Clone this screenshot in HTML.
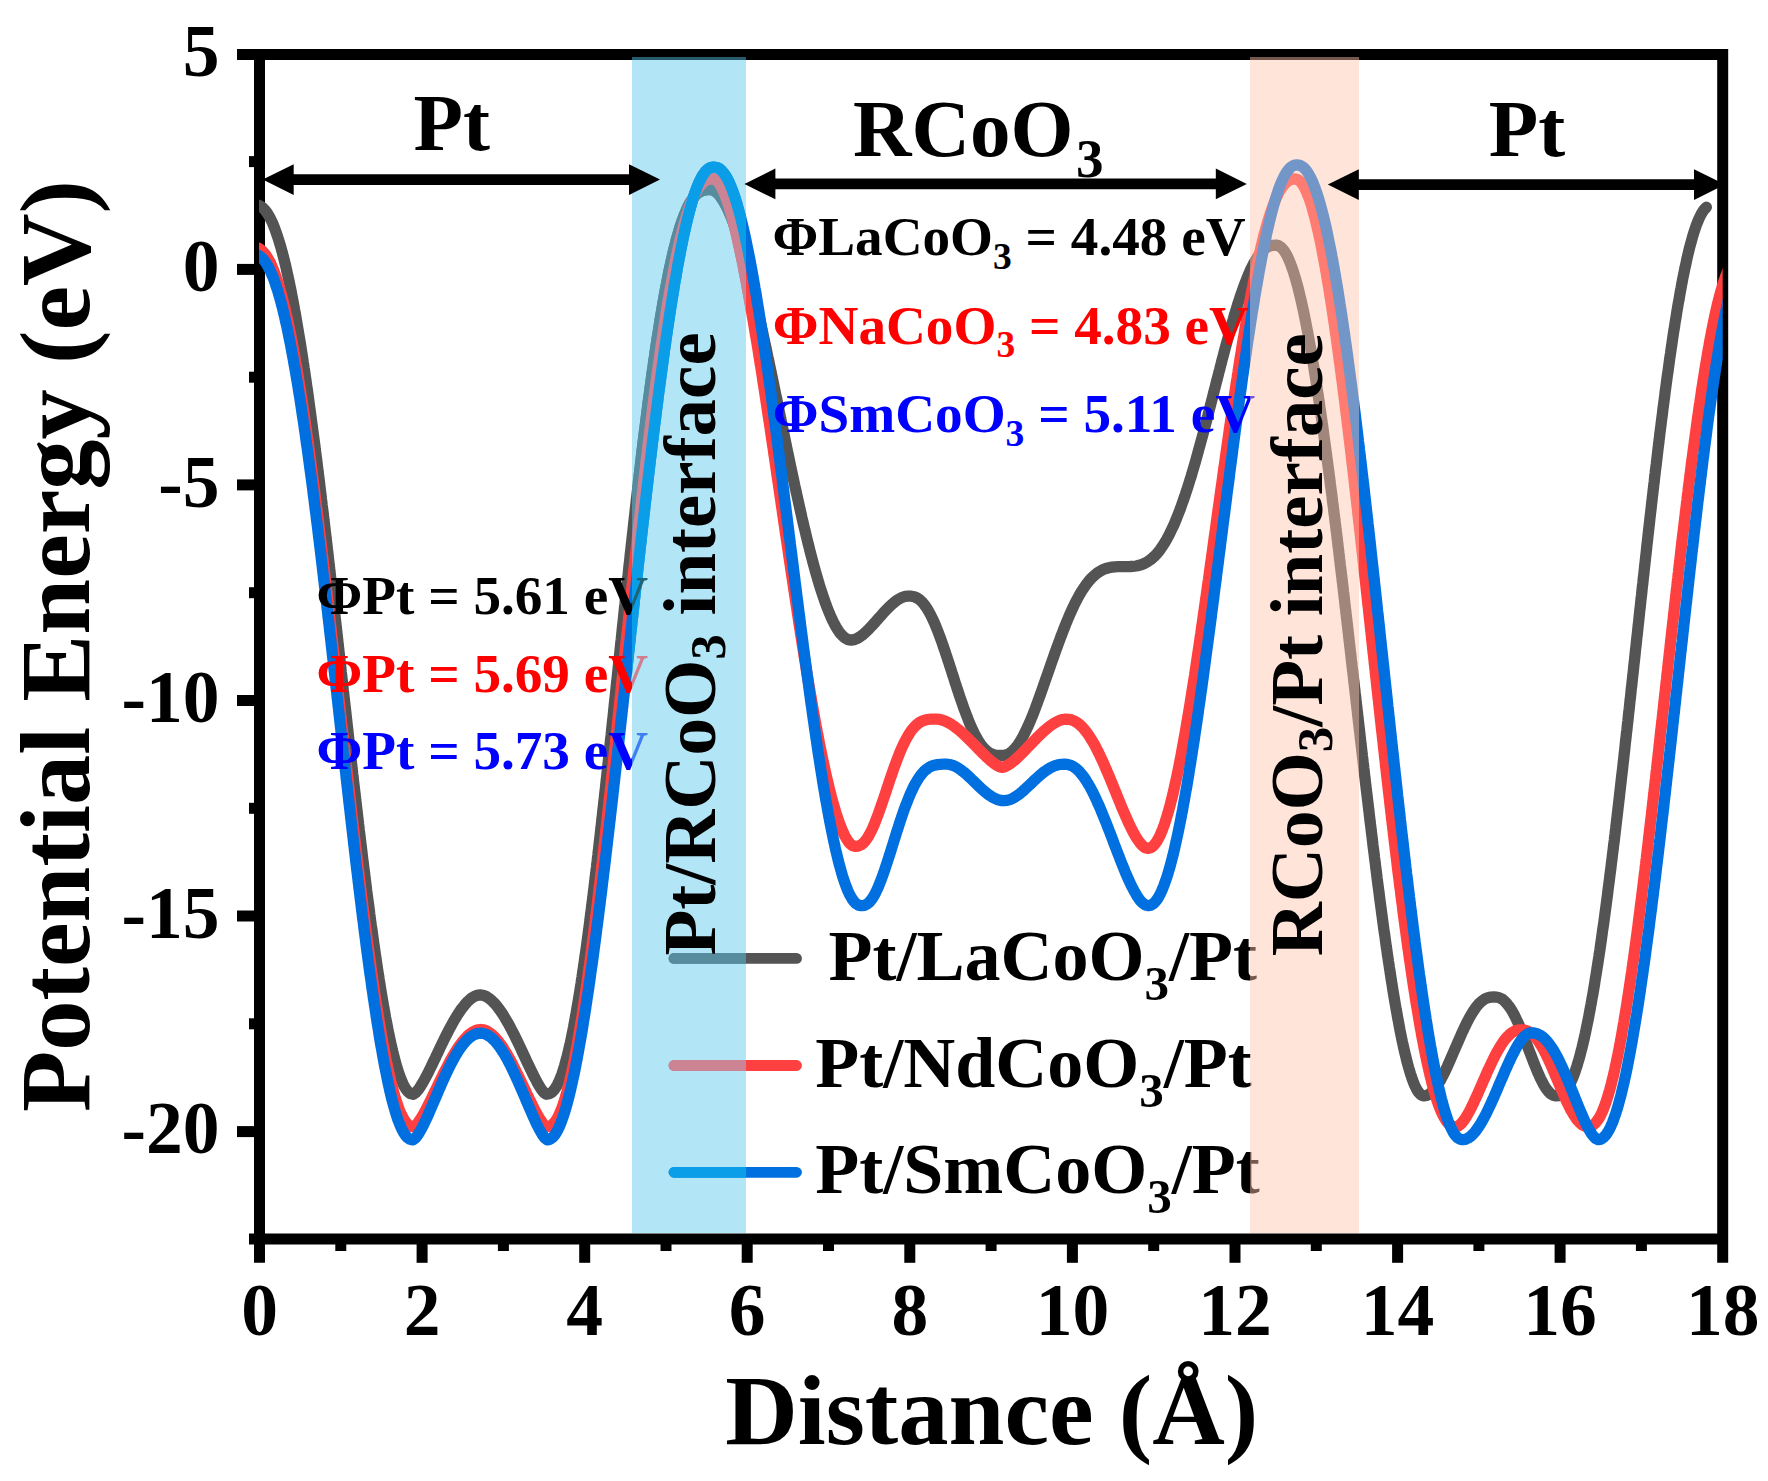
<!DOCTYPE html>
<html lang="en"><head><meta charset="utf-8"><title>Potential energy profile</title>
<style>html,body{margin:0;padding:0;background:#fff}svg{display:block}</style></head>
<body>
<svg width="1768" height="1481" viewBox="0 0 1768 1481" font-family="'Liberation Serif', serif" font-weight="bold">
<rect width="1768" height="1481" fill="#fff"/>
<g fill="none" stroke="#000" stroke-width="11.0" stroke-linecap="butt">
<path d="M237 54.4 H1722.7"/>
<path d="M249 1238.9 H1722.7"/>
<path d="M259.5 48.9 V1262.8"/>
<path d="M1722.7 48.9 V1262.8"/>
<path d="M237 269.4 H259.5"/>
<path d="M237 484.9 H259.5"/>
<path d="M237 700.5 H259.5"/>
<path d="M237 916.0 H259.5"/>
<path d="M237 1131.6 H259.5"/>
<path d="M249 161.6 H259.5"/>
<path d="M249 377.2 H259.5"/>
<path d="M249 592.7 H259.5"/>
<path d="M249 808.3 H259.5"/>
<path d="M249 1023.8 H259.5"/>
<path d="M422.1 1238.9 V1262.8"/>
<path d="M584.7 1238.9 V1262.8"/>
<path d="M747.2 1238.9 V1262.8"/>
<path d="M909.8 1238.9 V1262.8"/>
<path d="M1072.4 1238.9 V1262.8"/>
<path d="M1235.0 1238.9 V1262.8"/>
<path d="M1397.6 1238.9 V1262.8"/>
<path d="M1560.1 1238.9 V1262.8"/>
<path d="M340.8 1238.9 V1251"/>
<path d="M503.4 1238.9 V1251"/>
<path d="M666.0 1238.9 V1251"/>
<path d="M828.5 1238.9 V1251"/>
<path d="M991.1 1238.9 V1251"/>
<path d="M1153.7 1238.9 V1251"/>
<path d="M1316.3 1238.9 V1251"/>
<path d="M1478.9 1238.9 V1251"/>
<path d="M1641.4 1238.9 V1251"/>
</g>
<text x="219.5" y="75.6" font-size="73.5" fill="#000" text-anchor="end">5</text>
<text x="219.5" y="291.2" font-size="73.5" fill="#000" text-anchor="end">0</text>
<text x="219.5" y="506.8" font-size="73.5" fill="#000" text-anchor="end">-5</text>
<text x="219.5" y="722.3" font-size="73.5" fill="#000" text-anchor="end">-10</text>
<text x="219.5" y="937.8" font-size="73.5" fill="#000" text-anchor="end">-15</text>
<text x="219.5" y="1153.4" font-size="73.5" fill="#000" text-anchor="end">-20</text>
<text x="259.5" y="1334.8" font-size="73.5" fill="#000" text-anchor="middle">0</text>
<text x="422.1" y="1334.8" font-size="73.5" fill="#000" text-anchor="middle">2</text>
<text x="584.7" y="1334.8" font-size="73.5" fill="#000" text-anchor="middle">4</text>
<text x="747.2" y="1334.8" font-size="73.5" fill="#000" text-anchor="middle">6</text>
<text x="909.8" y="1334.8" font-size="73.5" fill="#000" text-anchor="middle">8</text>
<text x="1072.4" y="1334.8" font-size="73.5" fill="#000" text-anchor="middle">10</text>
<text x="1235.0" y="1334.8" font-size="73.5" fill="#000" text-anchor="middle">12</text>
<text x="1397.6" y="1334.8" font-size="73.5" fill="#000" text-anchor="middle">14</text>
<text x="1560.1" y="1334.8" font-size="73.5" fill="#000" text-anchor="middle">16</text>
<text x="1722.7" y="1334.8" font-size="73.5" fill="#000" text-anchor="middle">18</text>
<text x="991.8" y="1444.0" font-size="100.5" fill="#000" text-anchor="middle">Distance (Å)</text>
<text transform="translate(88.5 646) rotate(-90)" font-size="100.5" text-anchor="middle">Potential Energy (eV)</text>
<defs>
<clipPath id="fr"><rect x="259.0" y="40" width="1463.7" height="1210"/></clipPath>
<clipPath id="bb"><rect x="632.0" y="57.0" width="114.0" height="1176.0"/></clipPath>
<linearGradient id="gk" gradientUnits="userSpaceOnUse" x1="0" y1="0" x2="1768" y2="0"><stop offset="0.00000" stop-color="#000000"/><stop offset="0.35747" stop-color="#000000"/><stop offset="0.35747" stop-color="#1e6478"/><stop offset="0.42195" stop-color="#1e6478"/><stop offset="0.42195" stop-color="#000000"/><stop offset="0.70701" stop-color="#000000"/><stop offset="0.70701" stop-color="#73594e"/><stop offset="0.76867" stop-color="#73594e"/><stop offset="0.76867" stop-color="#000000"/><stop offset="1.00000" stop-color="#000000"/></linearGradient>
<linearGradient id="gr" gradientUnits="userSpaceOnUse" x1="0" y1="0" x2="1768" y2="0"><stop offset="0.00000" stop-color="#ff0000"/><stop offset="0.35747" stop-color="#ff0000"/><stop offset="0.35747" stop-color="#cf7f8f"/><stop offset="0.42195" stop-color="#cf7f8f"/><stop offset="0.42195" stop-color="#ff0000"/><stop offset="0.70701" stop-color="#ff0000"/><stop offset="0.70701" stop-color="#fe5a4e"/><stop offset="0.76867" stop-color="#fe5a4e"/><stop offset="0.76867" stop-color="#ff0000"/><stop offset="1.00000" stop-color="#ff0000"/></linearGradient>
<linearGradient id="gb" gradientUnits="userSpaceOnUse" x1="0" y1="0" x2="1768" y2="0"><stop offset="0.00000" stop-color="#0000ff"/><stop offset="0.35747" stop-color="#0000ff"/><stop offset="0.35747" stop-color="#3f7df3"/><stop offset="0.42195" stop-color="#3f7df3"/><stop offset="0.42195" stop-color="#0000ff"/><stop offset="0.70701" stop-color="#0000ff"/><stop offset="0.70701" stop-color="#7359d9"/><stop offset="0.76867" stop-color="#7359d9"/><stop offset="0.76867" stop-color="#0000ff"/><stop offset="1.00000" stop-color="#0000ff"/></linearGradient>
<path id="cg" d="M254.0 204.5L257.0 204.8L259.8 205.8L262.3 207.4L264.5 209.5L266.3 211.8L268.0 214.3L269.5 216.9L270.9 219.6L272.2 222.3L273.4 225.1L274.5 227.9L275.5 230.7L276.5 233.5L277.5 236.3L278.4 239.2L279.3 242.1L280.2 244.9L281.0 247.8L281.8 250.7L282.6 253.6L283.3 256.5L284.1 259.4L284.8 262.3L285.5 265.2L286.2 268.2L286.8 271.1L287.5 274.0L288.1 277.0L288.8 279.9L289.4 282.8L290.0 285.8L290.6 288.7L291.2 291.6L291.7 294.6L292.3 297.5L292.9 300.5L293.4 303.4L294.0 306.4L294.5 309.3L295.1 312.3L295.6 315.2L296.1 318.2L296.6 321.2L297.1 324.1L297.6 327.1L298.1 330.0L298.6 333.0L299.1 335.9L299.6 338.9L300.1 341.9L300.6 344.8L301.0 347.8L301.5 350.8L302.0 353.7L302.4 356.7L302.9 359.7L303.3 362.6L303.8 365.6L304.2 368.6L304.7 371.5L305.1 374.5L305.5 377.5L306.0 380.4L306.4 383.4L306.8 386.4L307.2 389.3L307.7 392.3L308.1 395.3L308.5 398.3L308.9 401.2L309.3 404.2L309.7 407.2L310.1 410.1L310.5 413.1L310.9 416.1L311.3 419.1L311.7 422.0L312.1 425.0L312.5 428.0L312.9 431.0L313.3 433.9L313.7 436.9L314.1 439.9L314.5 442.9L314.9 445.8L315.2 448.8L315.6 451.8L316.0 454.8L316.4 457.8L316.8 460.7L317.1 463.7L317.5 466.7L317.9 469.7L318.2 472.6L318.6 475.6L319.0 478.6L319.4 481.6L319.7 484.6L320.1 487.5L320.4 490.5L320.8 493.5L321.2 496.5L321.5 499.4L321.9 502.4L322.2 505.4L322.6 508.4L323.0 511.4L323.3 514.3L323.7 517.3L324.0 520.3L324.4 523.3L324.7 526.3L325.1 529.2L325.4 532.2L325.8 535.2L326.1 538.2L326.5 541.2L326.8 544.1L327.2 547.1L327.5 550.1L327.9 553.1L328.2 556.1L328.5 559.0L328.9 562.0L329.2 565.0L329.6 568.0L329.9 571.0L330.3 574.0L330.6 576.9L330.9 579.9L331.3 582.9L331.6 585.9L332.0 588.9L332.3 591.8L332.6 594.8L333.0 597.8L333.3 600.8L333.6 603.8L334.0 606.8L334.3 609.7L334.7 612.7L335.0 615.7L335.3 618.7L335.7 621.7L336.0 624.6L336.3 627.6L336.7 630.6L337.0 633.6L337.3 636.6L337.7 639.6L338.0 642.5L338.3 645.5L338.7 648.5L339.0 651.5L339.3 654.5L339.7 657.4L340.0 660.4L340.3 663.4L340.7 666.4L341.0 669.4L341.3 672.4L341.7 675.3L342.0 678.3L342.3 681.3L342.7 684.3L343.0 687.3L343.3 690.2L343.7 693.2L344.0 696.2L344.3 699.2L344.7 702.2L345.0 705.2L345.3 708.1L345.7 711.1L346.0 714.1L346.3 717.1L346.7 720.1L347.0 723.1L347.3 726.0L347.7 729.0L348.0 732.0L348.3 735.0L348.7 738.0L349.0 740.9L349.3 743.9L349.7 746.9L350.0 749.9L350.3 752.9L350.7 755.9L351.0 758.8L351.4 761.8L351.7 764.8L352.0 767.8L352.4 770.8L352.7 773.7L353.1 776.7L353.4 779.7L353.7 782.7L354.1 785.7L354.4 788.6L354.8 791.6L355.1 794.6L355.5 797.6L355.8 800.6L356.2 803.6L356.5 806.5L356.9 809.5L357.2 812.5L357.6 815.5L357.9 818.5L358.3 821.4L358.6 824.4L359.0 827.4L359.3 830.4L359.7 833.4L360.0 836.3L360.4 839.3L360.7 842.3L361.1 845.3L361.5 848.2L361.8 851.2L362.2 854.2L362.5 857.2L362.9 860.2L363.3 863.1L363.6 866.1L364.0 869.1L364.4 872.1L364.8 875.1L365.1 878.0L365.5 881.0L365.9 884.0L366.3 887.0L366.6 889.9L367.0 892.9L367.4 895.9L367.8 898.9L368.2 901.8L368.6 904.8L369.0 907.8L369.4 910.8L369.7 913.7L370.1 916.7L370.5 919.7L370.9 922.7L371.3 925.6L371.8 928.6L372.2 931.6L372.6 934.6L373.0 937.5L373.4 940.5L373.8 943.5L374.2 946.4L374.7 949.4L375.1 952.4L375.5 955.4L376.0 958.3L376.4 961.3L376.8 964.3L377.3 967.2L377.7 970.2L378.2 973.2L378.7 976.1L379.1 979.1L379.6 982.1L380.1 985.0L380.5 988.0L381.0 990.9L381.5 993.9L382.0 996.9L382.5 999.8L383.0 1002.8L383.5 1005.7L384.0 1008.7L384.6 1011.6L385.1 1014.6L385.6 1017.5L386.2 1020.5L386.8 1023.4L387.3 1026.4L387.9 1029.3L388.5 1032.3L389.1 1035.2L389.7 1038.2L390.4 1041.1L391.0 1044.0L391.7 1046.9L392.3 1049.9L393.0 1052.8L393.8 1055.7L394.5 1058.6L395.3 1061.5L396.1 1064.4L396.9 1067.3L397.8 1070.1L398.7 1073.0L399.7 1075.8L400.8 1078.6L401.9 1081.4L403.1 1084.1L404.5 1086.8L406.1 1089.4L408.0 1091.7L410.3 1093.6L413.2 1094.3L415.7 1092.6L417.8 1090.3L419.6 1087.9L421.2 1085.3L422.8 1082.6L424.3 1080.0L425.8 1077.3L427.2 1074.5L428.6 1071.8L429.9 1069.1L431.3 1066.3L432.6 1063.5L433.9 1060.8L435.3 1058.0L436.6 1055.2L437.9 1052.5L439.2 1049.7L440.5 1046.9L441.8 1044.1L443.2 1041.4L444.5 1038.6L445.9 1035.9L447.3 1033.1L448.7 1030.4L450.1 1027.7L451.6 1025.0L453.1 1022.3L454.6 1019.6L456.2 1017.0L457.8 1014.4L459.5 1011.8L461.2 1009.3L463.1 1006.9L465.0 1004.5L467.0 1002.2L469.3 1000.1L471.6 998.1L474.2 996.5L477.1 995.4L480.1 994.9L483.1 995.3L486.0 996.4L488.6 998.0L491.0 999.9L493.2 1002.0L495.3 1004.2L497.3 1006.6L499.1 1009.0L500.9 1011.5L502.6 1014.0L504.2 1016.6L505.8 1019.3L507.3 1021.9L508.8 1024.6L510.3 1027.3L511.7 1030.0L513.1 1032.7L514.5 1035.4L515.8 1038.2L517.2 1040.9L518.5 1043.7L519.8 1046.4L521.1 1049.2L522.4 1052.0L523.7 1054.7L525.0 1057.5L526.3 1060.3L527.6 1063.1L528.9 1065.8L530.2 1068.6L531.6 1071.3L532.9 1074.1L534.3 1076.8L535.7 1079.5L537.1 1082.2L538.6 1084.9L540.2 1087.5L541.9 1090.1L543.8 1092.5L546.2 1094.3L549.2 1093.8L551.8 1092.4L553.9 1090.2L555.6 1087.8L557.2 1085.2L558.5 1082.5L559.7 1079.8L560.8 1077.0L561.9 1074.2L562.8 1071.3L563.7 1068.5L564.6 1065.6L565.4 1062.7L566.2 1059.8L567.0 1056.9L567.7 1054.0L568.4 1051.0L569.1 1048.1L569.8 1045.2L570.5 1042.2L571.1 1039.3L571.7 1036.4L572.3 1033.4L572.9 1030.5L573.5 1027.5L574.0 1024.6L574.6 1021.6L575.1 1018.7L575.7 1015.7L576.2 1012.7L576.7 1009.8L577.2 1006.8L577.7 1003.9L578.2 1000.9L578.7 997.9L579.2 995.0L579.7 992.0L580.2 989.0L580.6 986.1L581.1 983.1L581.5 980.1L582.0 977.1L582.4 974.2L582.9 971.2L583.3 968.2L583.8 965.2L584.2 962.3L584.6 959.3L585.0 956.3L585.5 953.3L585.9 950.4L586.3 947.4L586.7 944.4L587.1 941.4L587.5 938.5L587.9 935.5L588.3 932.5L588.7 929.5L589.1 926.5L589.5 923.6L589.9 920.6L590.2 917.6L590.6 914.6L591.0 911.6L591.4 908.6L591.7 905.7L592.1 902.7L592.5 899.7L592.9 896.7L593.2 893.7L593.6 890.7L594.0 887.8L594.3 884.8L594.7 881.8L595.0 878.8L595.4 875.8L595.8 872.8L596.1 869.9L596.5 866.9L596.8 863.9L597.2 860.9L597.5 857.9L597.9 854.9L598.2 851.9L598.6 849.0L598.9 846.0L599.2 843.0L599.6 840.0L599.9 837.0L600.3 834.0L600.6 831.0L600.9 828.0L601.3 825.1L601.6 822.1L601.9 819.1L602.3 816.1L602.6 813.1L602.9 810.1L603.3 807.1L603.6 804.1L603.9 801.2L604.3 798.2L604.6 795.2L604.9 792.2L605.3 789.2L605.6 786.2L605.9 783.2L606.2 780.2L606.6 777.3L606.9 774.3L607.2 771.3L607.5 768.3L607.8 765.3L608.2 762.3L608.5 759.3L608.8 756.3L609.1 753.3L609.5 750.4L609.8 747.4L610.1 744.4L610.4 741.4L610.7 738.4L611.1 735.4L611.4 732.4L611.7 729.4L612.0 726.4L612.3 723.5L612.6 720.5L613.0 717.5L613.3 714.5L613.6 711.5L613.9 708.5L614.2 705.5L614.5 702.5L614.9 699.5L615.2 696.5L615.5 693.6L615.8 690.6L616.1 687.6L616.4 684.6L616.7 681.6L617.1 678.6L617.4 675.6L617.7 672.6L618.0 669.6L618.3 666.7L618.6 663.7L619.0 660.7L619.3 657.7L619.6 654.7L619.9 651.7L620.2 648.7L620.5 645.7L620.8 642.7L621.2 639.7L621.5 636.8L621.8 633.8L622.1 630.8L622.4 627.8L622.7 624.8L623.1 621.8L623.4 618.8L623.7 615.8L624.0 612.8L624.3 609.9L624.6 606.9L625.0 603.9L625.3 600.9L625.6 597.9L625.9 594.9L626.2 591.9L626.6 588.9L626.9 585.9L627.2 583.0L627.5 580.0L627.9 577.0L628.2 574.0L628.5 571.0L628.8 568.0L629.1 565.0L629.5 562.0L629.8 559.0L630.1 556.1L630.4 553.1L630.8 550.1L631.1 547.1L631.4 544.1L631.8 541.1L632.1 538.1L632.4 535.1L632.8 532.2L633.1 529.2L633.4 526.2L633.7 523.2L634.1 520.2L634.4 517.2L634.8 514.2L635.1 511.2L635.4 508.3L635.8 505.3L636.1 502.3L636.4 499.3L636.8 496.3L637.1 493.3L637.5 490.3L637.8 487.3L638.2 484.4L638.5 481.4L638.9 478.4L639.2 475.4L639.6 472.4L639.9 469.4L640.3 466.4L640.6 463.5L641.0 460.5L641.3 457.5L641.7 454.5L642.0 451.5L642.4 448.5L642.8 445.6L643.1 442.6L643.5 439.6L643.9 436.6L644.2 433.6L644.6 430.6L645.0 427.7L645.4 424.7L645.7 421.7L646.1 418.7L646.5 415.7L646.9 412.7L647.3 409.8L647.6 406.8L648.0 403.8L648.4 400.8L648.8 397.8L649.2 394.9L649.6 391.9L650.0 388.9L650.4 385.9L650.8 382.9L651.2 380.0L651.6 377.0L652.0 374.0L652.4 371.0L652.9 368.1L653.3 365.1L653.7 362.1L654.1 359.1L654.6 356.1L655.0 353.2L655.4 350.2L655.9 347.2L656.3 344.3L656.8 341.3L657.2 338.3L657.7 335.3L658.2 332.4L658.6 329.4L659.1 326.4L659.6 323.5L660.0 320.5L660.5 317.5L661.0 314.6L661.5 311.6L662.0 308.6L662.5 305.7L663.0 302.7L663.6 299.7L664.1 296.8L664.6 293.8L665.2 290.9L665.7 287.9L666.3 285.0L666.9 282.0L667.4 279.1L668.0 276.1L668.6 273.2L669.2 270.2L669.8 267.3L670.5 264.3L671.1 261.4L671.8 258.5L672.4 255.5L673.1 252.6L673.8 249.7L674.5 246.8L675.3 243.9L676.0 241.0L676.8 238.1L677.6 235.2L678.5 232.3L679.3 229.4L680.2 226.5L681.2 223.7L682.1 220.8L683.2 218.0L684.2 215.2L685.4 212.4L686.6 209.6L687.8 206.9L689.2 204.3L690.7 201.6L692.4 199.1L694.2 196.7L696.2 194.5L698.5 192.6L701.1 191.1L703.9 190.1L706.9 189.6L709.9 189.5L712.8 190.0L715.5 191.5L717.8 193.4L719.8 195.7L721.6 198.1L723.2 200.6L724.7 203.2L726.1 205.8L727.5 208.5L728.7 211.3L729.9 214.0L731.1 216.8L732.2 219.6L733.3 222.4L734.3 225.2L735.3 228.0L736.3 230.9L737.3 233.7L738.2 236.6L739.1 239.5L740.0 242.3L740.9 245.2L741.7 248.1L742.6 251.0L743.4 253.9L744.2 256.8L745.0 259.7L745.8 262.6L746.6 265.5L747.4 268.4L748.1 271.3L748.9 274.2L749.6 277.1L750.4 280.0L751.1 282.9L751.8 285.9L752.5 288.8L753.3 291.7L754.0 294.6L754.7 297.5L755.3 300.5L756.0 303.4L756.7 306.3L757.4 309.3L758.1 312.2L758.7 315.1L759.4 318.0L760.1 321.0L760.7 323.9L761.4 326.8L762.0 329.8L762.7 332.7L763.3 335.7L763.9 338.6L764.6 341.5L765.2 344.5L765.9 347.4L766.5 350.4L767.1 353.3L767.7 356.2L768.4 359.2L769.0 362.1L769.6 365.1L770.2 368.0L770.8 370.9L771.5 373.9L772.1 376.8L772.7 379.8L773.3 382.7L773.9 385.7L774.5 388.6L775.1 391.5L775.7 394.5L776.4 397.4L777.0 400.4L777.6 403.3L778.2 406.3L778.8 409.2L779.4 412.2L780.0 415.1L780.6 418.0L781.2 421.0L781.8 423.9L782.4 426.9L783.0 429.8L783.7 432.8L784.3 435.7L784.9 438.7L785.5 441.6L786.1 444.5L786.7 447.5L787.3 450.4L787.9 453.4L788.6 456.3L789.2 459.3L789.8 462.2L790.4 465.1L791.0 468.1L791.7 471.0L792.3 474.0L792.9 476.9L793.6 479.9L794.2 482.8L794.8 485.7L795.5 488.7L796.1 491.6L796.8 494.5L797.4 497.5L798.1 500.4L798.7 503.3L799.4 506.3L800.0 509.2L800.7 512.1L801.4 515.1L802.0 518.0L802.7 520.9L803.4 523.9L804.1 526.8L804.8 529.7L805.5 532.6L806.2 535.6L806.9 538.5L807.6 541.4L808.3 544.3L809.1 547.2L809.8 550.2L810.5 553.1L811.3 556.0L812.1 558.9L812.8 561.8L813.6 564.7L814.4 567.6L815.2 570.5L816.0 573.4L816.9 576.3L817.7 579.2L818.6 582.1L819.4 584.9L820.3 587.8L821.2 590.7L822.2 593.5L823.1 596.4L824.1 599.2L825.1 602.1L826.1 604.9L827.2 607.7L828.3 610.5L829.4 613.3L830.6 616.0L831.8 618.8L833.1 621.5L834.5 624.2L835.9 626.8L837.5 629.4L839.2 631.9L841.0 634.2L843.1 636.4L845.5 638.3L848.1 639.6L851.1 640.1L854.1 639.6L857.0 638.5L859.7 637.0L862.2 635.2L864.5 633.2L866.8 631.1L869.0 628.9L871.1 626.7L873.2 624.4L875.3 622.1L877.3 619.8L879.3 617.5L881.4 615.2L883.4 612.9L885.5 610.7L887.7 608.4L889.8 606.3L892.1 604.2L894.4 602.2L896.9 600.3L899.5 598.7L902.3 597.3L905.2 596.4L908.3 596.1L911.3 596.2L914.3 596.8L917.1 598.0L919.6 599.7L921.9 601.8L923.9 604.1L925.7 606.5L927.4 609.1L928.9 611.7L930.4 614.4L931.7 617.1L933.0 619.8L934.3 622.6L935.5 625.4L936.6 628.2L937.8 631.1L938.8 633.9L939.9 636.8L941.0 639.6L942.0 642.5L943.0 645.4L944.0 648.3L945.0 651.1L945.9 654.0L946.9 656.9L947.8 659.8L948.8 662.7L949.7 665.6L950.7 668.5L951.6 671.4L952.5 674.3L953.5 677.2L954.4 680.1L955.3 683.0L956.3 685.9L957.2 688.8L958.2 691.7L959.1 694.6L960.1 697.5L961.1 700.4L962.1 703.2L963.1 706.1L964.1 709.0L965.2 711.8L966.3 714.7L967.4 717.5L968.5 720.4L969.6 723.2L970.8 726.0L972.1 728.8L973.4 731.5L974.7 734.2L976.2 736.9L977.7 739.6L979.3 742.2L981.0 744.7L982.9 747.1L984.9 749.3L987.2 751.3L989.7 753.1L992.5 754.3L995.4 755.1L998.5 755.4L1001.5 755.5L1004.5 755.3L1007.4 754.4L1010.1 753.0L1012.5 751.1L1014.6 749.0L1016.5 746.7L1018.3 744.2L1020.0 741.7L1021.5 739.1L1023.0 736.4L1024.4 733.7L1025.7 731.0L1027.0 728.3L1028.3 725.5L1029.5 722.7L1030.7 720.0L1031.8 717.2L1033.0 714.4L1034.1 711.5L1035.2 708.7L1036.2 705.9L1037.3 703.0L1038.3 700.2L1039.4 697.3L1040.4 694.5L1041.4 691.6L1042.4 688.8L1043.4 685.9L1044.4 683.1L1045.4 680.2L1046.4 677.4L1047.4 674.5L1048.4 671.6L1049.4 668.8L1050.4 665.9L1051.4 663.0L1052.4 660.2L1053.4 657.3L1054.4 654.5L1055.4 651.6L1056.4 648.8L1057.5 645.9L1058.5 643.1L1059.6 640.2L1060.6 637.4L1061.7 634.6L1062.8 631.7L1063.9 628.9L1065.0 626.1L1066.1 623.3L1067.3 620.5L1068.4 617.7L1069.6 614.9L1070.9 612.1L1072.1 609.4L1073.4 606.6L1074.7 603.9L1076.1 601.2L1077.5 598.5L1078.9 595.9L1080.4 593.2L1082.0 590.6L1083.7 588.1L1085.4 585.6L1087.2 583.2L1089.1 580.8L1091.1 578.5L1093.2 576.4L1095.5 574.4L1097.9 572.6L1100.5 571.0L1103.2 569.6L1106.0 568.5L1108.9 567.7L1111.9 567.1L1114.9 566.8L1117.9 566.7L1121.0 566.6L1124.0 566.6L1127.0 566.6L1130.0 566.5L1133.1 566.3L1136.1 566.0L1139.0 565.4L1141.9 564.5L1144.7 563.3L1147.3 561.9L1149.8 560.2L1152.2 558.3L1154.4 556.3L1156.5 554.1L1158.4 551.8L1160.3 549.4L1162.0 546.9L1163.7 544.4L1165.3 541.8L1166.8 539.2L1168.2 536.5L1169.6 533.8L1170.9 531.1L1172.2 528.4L1173.5 525.7L1174.7 522.9L1175.9 520.1L1177.0 517.3L1178.1 514.5L1179.2 511.7L1180.3 508.9L1181.3 506.0L1182.3 503.2L1183.3 500.3L1184.3 497.5L1185.3 494.6L1186.2 491.8L1187.2 488.9L1188.1 486.0L1189.0 483.1L1189.9 480.2L1190.8 477.4L1191.7 474.5L1192.5 471.6L1193.4 468.7L1194.2 465.8L1195.1 462.9L1195.9 460.0L1196.7 457.1L1197.5 454.2L1198.3 451.2L1199.1 448.3L1199.9 445.4L1200.7 442.5L1201.5 439.6L1202.3 436.7L1203.1 433.8L1203.9 430.8L1204.6 427.9L1205.4 425.0L1206.2 422.1L1206.9 419.1L1207.7 416.2L1208.4 413.3L1209.2 410.4L1209.9 407.4L1210.7 404.5L1211.4 401.6L1212.2 398.7L1212.9 395.7L1213.7 392.8L1214.4 389.9L1215.2 387.0L1215.9 384.0L1216.7 381.1L1217.4 378.2L1218.2 375.3L1218.9 372.3L1219.7 369.4L1220.4 366.5L1221.2 363.6L1221.9 360.6L1222.7 357.7L1223.5 354.8L1224.2 351.9L1225.0 349.0L1225.8 346.0L1226.6 343.1L1227.4 340.2L1228.2 337.3L1229.0 334.4L1229.8 331.5L1230.6 328.6L1231.4 325.6L1232.2 322.7L1233.1 319.8L1233.9 316.9L1234.8 314.0L1235.6 311.2L1236.5 308.3L1237.4 305.4L1238.3 302.5L1239.3 299.6L1240.2 296.8L1241.2 293.9L1242.2 291.0L1243.2 288.2L1244.2 285.4L1245.3 282.5L1246.4 279.7L1247.5 276.9L1248.7 274.1L1249.9 271.4L1251.1 268.6L1252.5 265.9L1253.9 263.2L1255.3 260.6L1256.9 258.0L1258.6 255.5L1260.4 253.1L1262.5 250.9L1264.7 248.9L1267.2 247.2L1269.9 245.9L1272.9 245.3L1275.9 245.1L1278.8 245.8L1281.3 247.5L1283.3 249.7L1285.0 252.1L1286.5 254.7L1287.9 257.4L1289.1 260.2L1290.2 262.9L1291.3 265.7L1292.3 268.6L1293.3 271.4L1294.2 274.3L1295.1 277.2L1295.9 280.1L1296.7 282.9L1297.5 285.8L1298.3 288.8L1299.0 291.7L1299.7 294.6L1300.4 297.5L1301.1 300.4L1301.8 303.4L1302.4 306.3L1303.1 309.2L1303.7 312.2L1304.3 315.1L1304.9 318.1L1305.5 321.0L1306.1 324.0L1306.6 326.9L1307.2 329.9L1307.8 332.8L1308.3 335.8L1308.9 338.7L1309.4 341.7L1309.9 344.6L1310.5 347.6L1311.0 350.5L1311.5 353.5L1312.0 356.5L1312.5 359.4L1313.0 362.4L1313.5 365.4L1314.0 368.3L1314.4 371.3L1314.9 374.3L1315.4 377.2L1315.9 380.2L1316.3 383.2L1316.8 386.1L1317.2 389.1L1317.7 392.1L1318.1 395.0L1318.6 398.0L1319.0 401.0L1319.5 404.0L1319.9 406.9L1320.3 409.9L1320.8 412.9L1321.2 415.9L1321.6 418.8L1322.0 421.8L1322.5 424.8L1322.9 427.8L1323.3 430.7L1323.7 433.7L1324.1 436.7L1324.5 439.7L1324.9 442.6L1325.3 445.6L1325.7 448.6L1326.1 451.6L1326.5 454.6L1326.9 457.5L1327.3 460.5L1327.7 463.5L1328.1 466.5L1328.5 469.5L1328.9 472.4L1329.3 475.4L1329.7 478.4L1330.1 481.4L1330.4 484.4L1330.8 487.3L1331.2 490.3L1331.6 493.3L1332.0 496.3L1332.3 499.3L1332.7 502.2L1333.1 505.2L1333.5 508.2L1333.8 511.2L1334.2 514.2L1334.6 517.1L1334.9 520.1L1335.3 523.1L1335.7 526.1L1336.0 529.1L1336.4 532.1L1336.8 535.0L1337.1 538.0L1337.5 541.0L1337.8 544.0L1338.2 547.0L1338.6 550.0L1338.9 552.9L1339.3 555.9L1339.6 558.9L1340.0 561.9L1340.3 564.9L1340.7 567.9L1341.0 570.8L1341.4 573.8L1341.8 576.8L1342.1 579.8L1342.5 582.8L1342.8 585.8L1343.2 588.8L1343.5 591.7L1343.9 594.7L1344.2 597.7L1344.6 600.7L1344.9 603.7L1345.2 606.7L1345.6 609.6L1345.9 612.6L1346.3 615.6L1346.6 618.6L1347.0 621.6L1347.3 624.6L1347.7 627.6L1348.0 630.5L1348.4 633.5L1348.7 636.5L1349.0 639.5L1349.4 642.5L1349.7 645.5L1350.1 648.5L1350.4 651.4L1350.8 654.4L1351.1 657.4L1351.4 660.4L1351.8 663.4L1352.1 666.4L1352.5 669.4L1352.8 672.3L1353.2 675.3L1353.5 678.3L1353.8 681.3L1354.2 684.3L1354.5 687.3L1354.9 690.3L1355.2 693.2L1355.6 696.2L1355.9 699.2L1356.2 702.2L1356.6 705.2L1356.9 708.2L1357.3 711.1L1357.6 714.1L1357.9 717.1L1358.3 720.1L1358.6 723.1L1359.0 726.1L1359.3 729.1L1359.7 732.0L1360.0 735.0L1360.3 738.0L1360.7 741.0L1361.0 744.0L1361.4 747.0L1361.7 750.0L1362.1 752.9L1362.4 755.9L1362.8 758.9L1363.1 761.9L1363.5 764.9L1363.8 767.9L1364.2 770.9L1364.5 773.8L1364.8 776.8L1365.2 779.8L1365.5 782.8L1365.9 785.8L1366.2 788.8L1366.6 791.7L1367.0 794.7L1367.3 797.7L1367.7 800.7L1368.0 803.7L1368.4 806.7L1368.7 809.6L1369.1 812.6L1369.4 815.6L1369.8 818.6L1370.1 821.6L1370.5 824.6L1370.9 827.5L1371.2 830.5L1371.6 833.5L1372.0 836.5L1372.3 839.5L1372.7 842.5L1373.0 845.4L1373.4 848.4L1373.8 851.4L1374.2 854.4L1374.5 857.4L1374.9 860.4L1375.3 863.3L1375.6 866.3L1376.0 869.3L1376.4 872.3L1376.8 875.3L1377.1 878.2L1377.5 881.2L1377.9 884.2L1378.3 887.2L1378.7 890.2L1379.1 893.1L1379.4 896.1L1379.8 899.1L1380.2 902.1L1380.6 905.1L1381.0 908.0L1381.4 911.0L1381.8 914.0L1382.2 917.0L1382.6 920.0L1383.0 922.9L1383.4 925.9L1383.8 928.9L1384.2 931.9L1384.7 934.8L1385.1 937.8L1385.5 940.8L1385.9 943.8L1386.3 946.7L1386.8 949.7L1387.2 952.7L1387.6 955.7L1388.1 958.6L1388.5 961.6L1389.0 964.6L1389.4 967.6L1389.9 970.5L1390.3 973.5L1390.8 976.5L1391.2 979.4L1391.7 982.4L1392.2 985.4L1392.6 988.3L1393.1 991.3L1393.6 994.3L1394.1 997.2L1394.6 1000.2L1395.1 1003.2L1395.6 1006.1L1396.1 1009.1L1396.7 1012.0L1397.2 1015.0L1397.7 1018.0L1398.3 1020.9L1398.8 1023.9L1399.4 1026.8L1399.9 1029.8L1400.5 1032.7L1401.1 1035.7L1401.7 1038.6L1402.3 1041.5L1403.0 1044.5L1403.6 1047.4L1404.3 1050.4L1405.0 1053.3L1405.7 1056.2L1406.4 1059.1L1407.1 1062.0L1407.9 1064.9L1408.7 1067.8L1409.6 1070.7L1410.4 1073.6L1411.4 1076.4L1412.3 1079.3L1413.4 1082.1L1414.5 1084.9L1415.8 1087.6L1417.2 1090.2L1418.9 1092.7L1421.0 1094.9L1423.8 1095.9L1426.8 1095.5L1429.5 1094.1L1431.8 1092.2L1433.9 1090.1L1435.7 1087.7L1437.5 1085.2L1439.0 1082.7L1440.6 1080.0L1442.0 1077.4L1443.4 1074.7L1444.7 1072.0L1446.0 1069.3L1447.3 1066.6L1448.5 1063.8L1449.7 1061.1L1450.9 1058.3L1452.1 1055.5L1453.3 1052.8L1454.5 1050.0L1455.7 1047.2L1456.9 1044.5L1458.1 1041.7L1459.3 1038.9L1460.5 1036.2L1461.7 1033.4L1463.0 1030.7L1464.3 1027.9L1465.6 1025.2L1466.9 1022.5L1468.3 1019.9L1469.7 1017.2L1471.2 1014.6L1472.8 1012.0L1474.5 1009.5L1476.2 1007.1L1478.1 1004.7L1480.2 1002.5L1482.5 1000.6L1485.0 998.9L1487.8 997.7L1490.7 997.1L1493.7 996.9L1496.7 997.1L1499.7 997.9L1502.4 999.3L1504.7 1001.3L1506.8 1003.5L1508.7 1005.9L1510.5 1008.4L1512.1 1011.0L1513.6 1013.7L1515.0 1016.4L1516.3 1019.1L1517.6 1021.9L1518.9 1024.7L1520.1 1027.5L1521.2 1030.3L1522.4 1033.1L1523.5 1036.0L1524.6 1038.8L1525.8 1041.6L1526.8 1044.5L1527.9 1047.3L1529.0 1050.2L1530.1 1053.1L1531.2 1055.9L1532.3 1058.8L1533.4 1061.6L1534.5 1064.4L1535.7 1067.3L1536.8 1070.1L1538.0 1072.9L1539.3 1075.7L1540.5 1078.5L1541.9 1081.2L1543.3 1083.9L1544.8 1086.6L1546.5 1089.1L1548.4 1091.5L1550.5 1093.7L1553.1 1095.3L1556.1 1095.9L1559.1 1095.6L1561.8 1094.3L1564.1 1092.4L1566.1 1090.2L1567.8 1087.7L1569.3 1085.1L1570.7 1082.4L1571.9 1079.7L1573.1 1076.9L1574.2 1074.1L1575.2 1071.3L1576.1 1068.4L1577.1 1065.6L1577.9 1062.7L1578.8 1059.8L1579.6 1056.9L1580.4 1054.0L1581.1 1051.1L1581.9 1048.2L1582.6 1045.3L1583.3 1042.3L1584.0 1039.4L1584.6 1036.5L1585.3 1033.5L1585.9 1030.6L1586.5 1027.7L1587.1 1024.7L1587.7 1021.8L1588.3 1018.8L1588.9 1015.9L1589.4 1012.9L1590.0 1010.0L1590.5 1007.0L1591.1 1004.0L1591.6 1001.1L1592.1 998.1L1592.7 995.2L1593.2 992.2L1593.7 989.2L1594.2 986.3L1594.7 983.3L1595.1 980.3L1595.6 977.4L1596.1 974.4L1596.6 971.4L1597.0 968.5L1597.5 965.5L1598.0 962.5L1598.4 959.6L1598.9 956.6L1599.3 953.6L1599.8 950.6L1600.2 947.7L1600.6 944.7L1601.1 941.7L1601.5 938.7L1601.9 935.8L1602.3 932.8L1602.7 929.8L1603.2 926.8L1603.6 923.9L1604.0 920.9L1604.4 917.9L1604.8 914.9L1605.2 911.9L1605.6 909.0L1606.0 906.0L1606.4 903.0L1606.8 900.0L1607.2 897.0L1607.6 894.1L1607.9 891.1L1608.3 888.1L1608.7 885.1L1609.1 882.1L1609.5 879.1L1609.8 876.2L1610.2 873.2L1610.6 870.2L1611.0 867.2L1611.3 864.2L1611.7 861.3L1612.1 858.3L1612.4 855.3L1612.8 852.3L1613.2 849.3L1613.5 846.3L1613.9 843.3L1614.3 840.4L1614.6 837.4L1615.0 834.4L1615.3 831.4L1615.7 828.4L1616.0 825.4L1616.4 822.5L1616.7 819.5L1617.1 816.5L1617.4 813.5L1617.8 810.5L1618.1 807.5L1618.5 804.5L1618.8 801.6L1619.2 798.6L1619.5 795.6L1619.8 792.6L1620.2 789.6L1620.5 786.6L1620.9 783.6L1621.2 780.6L1621.5 777.7L1621.9 774.7L1622.2 771.7L1622.6 768.7L1622.9 765.7L1623.2 762.7L1623.6 759.7L1623.9 756.7L1624.2 753.8L1624.6 750.8L1624.9 747.8L1625.2 744.8L1625.5 741.8L1625.9 738.8L1626.2 735.8L1626.5 732.8L1626.9 729.9L1627.2 726.9L1627.5 723.9L1627.9 720.9L1628.2 717.9L1628.5 714.9L1628.8 711.9L1629.2 708.9L1629.5 706.0L1629.8 703.0L1630.1 700.0L1630.5 697.0L1630.8 694.0L1631.1 691.0L1631.4 688.0L1631.8 685.0L1632.1 682.0L1632.4 679.1L1632.7 676.1L1633.1 673.1L1633.4 670.1L1633.7 667.1L1634.0 664.1L1634.4 661.1L1634.7 658.1L1635.0 655.1L1635.3 652.2L1635.6 649.2L1636.0 646.2L1636.3 643.2L1636.6 640.2L1636.9 637.2L1637.3 634.2L1637.6 631.2L1637.9 628.3L1638.2 625.3L1638.6 622.3L1638.9 619.3L1639.2 616.3L1639.5 613.3L1639.8 610.3L1640.2 607.3L1640.5 604.3L1640.8 601.4L1641.1 598.4L1641.5 595.4L1641.8 592.4L1642.1 589.4L1642.4 586.4L1642.8 583.4L1643.1 580.4L1643.4 577.4L1643.8 574.5L1644.1 571.5L1644.4 568.5L1644.7 565.5L1645.1 562.5L1645.4 559.5L1645.7 556.5L1646.1 553.5L1646.4 550.6L1646.7 547.6L1647.0 544.6L1647.4 541.6L1647.7 538.6L1648.0 535.6L1648.4 532.6L1648.7 529.6L1649.0 526.7L1649.4 523.7L1649.7 520.7L1650.0 517.7L1650.4 514.7L1650.7 511.7L1651.1 508.7L1651.4 505.7L1651.7 502.8L1652.1 499.8L1652.4 496.8L1652.8 493.8L1653.1 490.8L1653.5 487.8L1653.8 484.8L1654.2 481.9L1654.5 478.9L1654.8 475.9L1655.2 472.9L1655.5 469.9L1655.9 466.9L1656.3 463.9L1656.6 461.0L1657.0 458.0L1657.3 455.0L1657.7 452.0L1658.0 449.0L1658.4 446.0L1658.8 443.0L1659.1 440.1L1659.5 437.1L1659.8 434.1L1660.2 431.1L1660.6 428.1L1661.0 425.1L1661.3 422.2L1661.7 419.2L1662.1 416.2L1662.5 413.2L1662.8 410.2L1663.2 407.3L1663.6 404.3L1664.0 401.3L1664.4 398.3L1664.8 395.3L1665.1 392.3L1665.5 389.4L1665.9 386.4L1666.3 383.4L1666.7 380.4L1667.1 377.4L1667.5 374.5L1668.0 371.5L1668.4 368.5L1668.8 365.5L1669.2 362.6L1669.6 359.6L1670.0 356.6L1670.5 353.6L1670.9 350.7L1671.3 347.7L1671.8 344.7L1672.2 341.7L1672.6 338.8L1673.1 335.8L1673.5 332.8L1674.0 329.8L1674.5 326.9L1674.9 323.9L1675.4 320.9L1675.9 318.0L1676.4 315.0L1676.8 312.0L1677.3 309.1L1677.8 306.1L1678.3 303.1L1678.9 300.2L1679.4 297.2L1679.9 294.3L1680.4 291.3L1681.0 288.3L1681.5 285.4L1682.1 282.4L1682.6 279.5L1683.2 276.5L1683.8 273.6L1684.4 270.6L1685.0 267.7L1685.7 264.8L1686.3 261.8L1686.9 258.9L1687.6 256.0L1688.3 253.0L1689.0 250.1L1689.7 247.2L1690.5 244.3L1691.3 241.4L1692.1 238.5L1692.9 235.6L1693.8 232.7L1694.7 229.9L1695.7 227.0L1696.7 224.2L1697.8 221.4L1699.0 218.6L1700.3 215.9L1701.7 213.3L1703.3 210.7L1705.2 208.4L1706.4 207.2"/>
<path id="cr" d="M252.0 247.0L255.0 247.2L257.9 248.0L260.5 249.5L262.8 251.5L264.8 253.7L266.5 256.1L268.1 258.7L269.6 261.3L270.9 264.0L272.1 266.8L273.3 269.5L274.4 272.3L275.4 275.1L276.4 278.0L277.4 280.8L278.3 283.7L279.1 286.6L280.0 289.4L280.8 292.3L281.6 295.2L282.4 298.1L283.1 301.0L283.8 304.0L284.6 306.9L285.3 309.8L285.9 312.7L286.6 315.7L287.3 318.6L287.9 321.5L288.5 324.5L289.1 327.4L289.7 330.3L290.3 333.3L290.9 336.2L291.5 339.2L292.1 342.1L292.6 345.1L293.2 348.0L293.7 351.0L294.3 353.9L294.8 356.9L295.3 359.9L295.8 362.8L296.4 365.8L296.9 368.7L297.4 371.7L297.9 374.7L298.4 377.6L298.8 380.6L299.3 383.6L299.8 386.5L300.3 389.5L300.7 392.5L301.2 395.4L301.7 398.4L302.1 401.4L302.6 404.3L303.0 407.3L303.5 410.3L303.9 413.2L304.4 416.2L304.8 419.2L305.2 422.2L305.7 425.1L306.1 428.1L306.5 431.1L306.9 434.1L307.4 437.0L307.8 440.0L308.2 443.0L308.6 446.0L309.0 448.9L309.4 451.9L309.8 454.9L310.2 457.9L310.6 460.8L311.0 463.8L311.4 466.8L311.8 469.8L312.2 472.8L312.6 475.7L313.0 478.7L313.4 481.7L313.8 484.7L314.1 487.6L314.5 490.6L314.9 493.6L315.3 496.6L315.7 499.6L316.0 502.5L316.4 505.5L316.8 508.5L317.2 511.5L317.5 514.5L317.9 517.5L318.3 520.4L318.6 523.4L319.0 526.4L319.4 529.4L319.7 532.4L320.1 535.3L320.5 538.3L320.8 541.3L321.2 544.3L321.5 547.3L321.9 550.3L322.2 553.2L322.6 556.2L323.0 559.2L323.3 562.2L323.7 565.2L324.0 568.2L324.4 571.1L324.7 574.1L325.1 577.1L325.4 580.1L325.8 583.1L326.1 586.1L326.5 589.0L326.8 592.0L327.2 595.0L327.5 598.0L327.8 601.0L328.2 604.0L328.5 606.9L328.9 609.9L329.2 612.9L329.6 615.9L329.9 618.9L330.2 621.9L330.6 624.9L330.9 627.8L331.3 630.8L331.6 633.8L331.9 636.8L332.3 639.8L332.6 642.8L332.9 645.7L333.3 648.7L333.6 651.7L334.0 654.7L334.3 657.7L334.6 660.7L335.0 663.7L335.3 666.6L335.6 669.6L336.0 672.6L336.3 675.6L336.6 678.6L337.0 681.6L337.3 684.6L337.6 687.5L338.0 690.5L338.3 693.5L338.6 696.5L339.0 699.5L339.3 702.5L339.6 705.5L340.0 708.4L340.3 711.4L340.6 714.4L341.0 717.4L341.3 720.4L341.6 723.4L342.0 726.4L342.3 729.3L342.6 732.3L343.0 735.3L343.3 738.3L343.7 741.3L344.0 744.3L344.3 747.3L344.7 750.2L345.0 753.2L345.3 756.2L345.7 759.2L346.0 762.2L346.3 765.2L346.7 768.1L347.0 771.1L347.3 774.1L347.7 777.1L348.0 780.1L348.4 783.1L348.7 786.1L349.0 789.0L349.4 792.0L349.7 795.0L350.1 798.0L350.4 801.0L350.7 804.0L351.1 807.0L351.4 809.9L351.8 812.9L352.1 815.9L352.5 818.9L352.8 821.9L353.1 824.9L353.5 827.8L353.8 830.8L354.2 833.8L354.5 836.8L354.9 839.8L355.2 842.8L355.6 845.7L355.9 848.7L356.3 851.7L356.6 854.7L357.0 857.7L357.4 860.7L357.7 863.6L358.1 866.6L358.4 869.6L358.8 872.6L359.2 875.6L359.5 878.6L359.9 881.5L360.2 884.5L360.6 887.5L361.0 890.5L361.3 893.5L361.7 896.4L362.1 899.4L362.5 902.4L362.8 905.4L363.2 908.4L363.6 911.4L364.0 914.3L364.3 917.3L364.7 920.3L365.1 923.3L365.5 926.3L365.9 929.2L366.3 932.2L366.7 935.2L367.0 938.2L367.4 941.1L367.8 944.1L368.2 947.1L368.6 950.1L369.0 953.1L369.4 956.0L369.9 959.0L370.3 962.0L370.7 965.0L371.1 967.9L371.5 970.9L371.9 973.9L372.4 976.9L372.8 979.8L373.2 982.8L373.7 985.8L374.1 988.7L374.5 991.7L375.0 994.7L375.4 997.7L375.9 1000.6L376.3 1003.6L376.8 1006.6L377.3 1009.5L377.7 1012.5L378.2 1015.5L378.7 1018.4L379.2 1021.4L379.7 1024.4L380.2 1027.3L380.7 1030.3L381.2 1033.2L381.7 1036.2L382.2 1039.2L382.8 1042.1L383.3 1045.1L383.9 1048.0L384.4 1051.0L385.0 1053.9L385.6 1056.9L386.1 1059.8L386.7 1062.8L387.4 1065.7L388.0 1068.6L388.6 1071.6L389.3 1074.5L389.9 1077.4L390.6 1080.4L391.3 1083.3L392.1 1086.2L392.8 1089.1L393.6 1092.0L394.4 1094.9L395.3 1097.8L396.1 1100.7L397.1 1103.5L398.1 1106.4L399.1 1109.2L400.2 1112.0L401.4 1114.7L402.8 1117.4L404.3 1120.0L406.0 1122.5L408.0 1124.6L410.6 1126.2L413.5 1126.8L416.0 1125.1L418.0 1122.8L419.7 1120.3L421.3 1117.8L422.9 1115.2L424.4 1112.5L425.8 1109.8L427.2 1107.1L428.6 1104.4L429.9 1101.7L431.3 1099.0L432.6 1096.3L433.9 1093.5L435.2 1090.8L436.5 1088.1L437.8 1085.3L439.1 1082.6L440.5 1079.8L441.8 1077.1L443.1 1074.4L444.5 1071.7L445.9 1069.0L447.3 1066.3L448.7 1063.6L450.1 1060.9L451.6 1058.3L453.1 1055.6L454.7 1053.0L456.3 1050.4L457.9 1047.9L459.7 1045.4L461.4 1043.0L463.3 1040.6L465.3 1038.3L467.4 1036.1L469.7 1034.1L472.2 1032.3L474.8 1030.9L477.7 1029.9L480.7 1029.5L483.7 1029.9L486.5 1030.9L489.2 1032.4L491.6 1034.2L493.8 1036.2L495.9 1038.4L497.9 1040.7L499.7 1043.1L501.5 1045.5L503.2 1048.0L504.8 1050.6L506.4 1053.1L507.9 1055.7L509.4 1058.4L510.8 1061.0L512.2 1063.7L513.6 1066.4L515.0 1069.1L516.3 1071.8L517.7 1074.5L519.0 1077.2L520.3 1079.9L521.6 1082.6L522.9 1085.4L524.2 1088.1L525.5 1090.8L526.7 1093.6L528.0 1096.3L529.3 1099.0L530.7 1101.7L532.0 1104.4L533.3 1107.1L534.7 1109.8L536.1 1112.5L537.6 1115.2L539.1 1117.8L540.7 1120.3L542.4 1122.8L544.4 1125.1L546.8 1126.8L549.7 1126.3L552.3 1124.7L554.4 1122.6L556.2 1120.2L557.7 1117.6L559.0 1114.9L560.2 1112.1L561.4 1109.4L562.4 1106.5L563.4 1103.7L564.3 1100.8L565.2 1098.0L566.0 1095.1L566.9 1092.2L567.6 1089.3L568.4 1086.4L569.1 1083.5L569.8 1080.6L570.5 1077.6L571.2 1074.7L571.8 1071.8L572.4 1068.8L573.1 1065.9L573.7 1063.0L574.3 1060.0L574.8 1057.1L575.4 1054.1L576.0 1051.2L576.5 1048.2L577.1 1045.3L577.6 1042.3L578.1 1039.3L578.6 1036.4L579.1 1033.4L579.6 1030.5L580.1 1027.5L580.6 1024.5L581.1 1021.6L581.6 1018.6L582.1 1015.6L582.5 1012.7L583.0 1009.7L583.5 1006.7L583.9 1003.8L584.4 1000.8L584.8 997.8L585.2 994.9L585.7 991.9L586.1 988.9L586.5 985.9L587.0 983.0L587.4 980.0L587.8 977.0L588.2 974.0L588.6 971.1L589.0 968.1L589.5 965.1L589.9 962.1L590.3 959.2L590.7 956.2L591.1 953.2L591.5 950.2L591.8 947.3L592.2 944.3L592.6 941.3L593.0 938.3L593.4 935.3L593.8 932.4L594.1 929.4L594.5 926.4L594.9 923.4L595.3 920.4L595.6 917.5L596.0 914.5L596.4 911.5L596.7 908.5L597.1 905.5L597.5 902.5L597.8 899.6L598.2 896.6L598.6 893.6L598.9 890.6L599.3 887.6L599.6 884.7L600.0 881.7L600.3 878.7L600.7 875.7L601.0 872.7L601.4 869.7L601.7 866.8L602.1 863.8L602.4 860.8L602.8 857.8L603.1 854.8L603.4 851.8L603.8 848.9L604.1 845.9L604.5 842.9L604.8 839.9L605.1 836.9L605.5 833.9L605.8 830.9L606.1 828.0L606.5 825.0L606.8 822.0L607.1 819.0L607.5 816.0L607.8 813.0L608.1 810.0L608.5 807.1L608.8 804.1L609.1 801.1L609.4 798.1L609.8 795.1L610.1 792.1L610.4 789.1L610.8 786.2L611.1 783.2L611.4 780.2L611.7 777.2L612.0 774.2L612.4 771.2L612.7 768.2L613.0 765.3L613.3 762.3L613.7 759.3L614.0 756.3L614.3 753.3L614.6 750.3L614.9 747.3L615.3 744.4L615.6 741.4L615.9 738.4L616.2 735.4L616.5 732.4L616.9 729.4L617.2 726.4L617.5 723.4L617.8 720.5L618.1 717.5L618.4 714.5L618.8 711.5L619.1 708.5L619.4 705.5L619.7 702.5L620.0 699.6L620.3 696.6L620.7 693.6L621.0 690.6L621.3 687.6L621.6 684.6L621.9 681.6L622.2 678.6L622.6 675.7L622.9 672.7L623.2 669.7L623.5 666.7L623.8 663.7L624.1 660.7L624.5 657.7L624.8 654.7L625.1 651.8L625.4 648.8L625.7 645.8L626.0 642.8L626.4 639.8L626.7 636.8L627.0 633.8L627.3 630.9L627.6 627.9L628.0 624.9L628.3 621.9L628.6 618.9L628.9 615.9L629.2 612.9L629.5 609.9L629.9 607.0L630.2 604.0L630.5 601.0L630.8 598.0L631.2 595.0L631.5 592.0L631.8 589.0L632.1 586.1L632.4 583.1L632.8 580.1L633.1 577.1L633.4 574.1L633.7 571.1L634.1 568.1L634.4 565.2L634.7 562.2L635.0 559.2L635.4 556.2L635.7 553.2L636.0 550.2L636.3 547.2L636.7 544.3L637.0 541.3L637.3 538.3L637.7 535.3L638.0 532.3L638.3 529.3L638.7 526.3L639.0 523.4L639.3 520.4L639.7 517.4L640.0 514.4L640.3 511.4L640.7 508.4L641.0 505.4L641.4 502.5L641.7 499.5L642.0 496.5L642.4 493.5L642.7 490.5L643.1 487.5L643.4 484.6L643.8 481.6L644.1 478.6L644.5 475.6L644.8 472.6L645.2 469.6L645.5 466.7L645.9 463.7L646.2 460.7L646.6 457.7L646.9 454.7L647.3 451.7L647.6 448.8L648.0 445.8L648.4 442.8L648.7 439.8L649.1 436.8L649.5 433.9L649.8 430.9L650.2 427.9L650.6 424.9L650.9 421.9L651.3 418.9L651.7 416.0L652.1 413.0L652.4 410.0L652.8 407.0L653.2 404.1L653.6 401.1L654.0 398.1L654.4 395.1L654.7 392.1L655.1 389.2L655.5 386.2L655.9 383.2L656.3 380.2L656.7 377.3L657.1 374.3L657.5 371.3L658.0 368.3L658.4 365.3L658.8 362.4L659.2 359.4L659.6 356.4L660.0 353.4L660.5 350.5L660.9 347.5L661.3 344.5L661.8 341.6L662.2 338.6L662.7 335.6L663.1 332.6L663.6 329.7L664.0 326.7L664.5 323.7L664.9 320.8L665.4 317.8L665.9 314.8L666.3 311.9L666.8 308.9L667.3 305.9L667.8 303.0L668.3 300.0L668.8 297.1L669.3 294.1L669.8 291.1L670.3 288.2L670.9 285.2L671.4 282.3L671.9 279.3L672.5 276.4L673.1 273.4L673.6 270.5L674.2 267.5L674.8 264.6L675.4 261.6L676.0 258.7L676.6 255.7L677.2 252.8L677.8 249.9L678.5 246.9L679.2 244.0L679.8 241.1L680.5 238.2L681.3 235.2L682.0 232.3L682.7 229.4L683.5 226.5L684.3 223.6L685.1 220.7L686.0 217.8L686.9 215.0L687.8 212.1L688.7 209.3L689.7 206.4L690.8 203.6L691.9 200.8L693.1 198.1L694.3 195.3L695.7 192.7L697.2 190.1L698.8 187.5L700.6 185.1L702.7 183.0L705.0 181.1L707.7 179.7L710.6 179.0L713.6 178.8L716.3 180.0L718.4 182.2L720.1 184.7L721.5 187.3L722.8 190.0L724.0 192.7L725.2 195.5L726.2 198.4L727.2 201.2L728.1 204.0L729.1 206.9L729.9 209.8L730.8 212.7L731.6 215.6L732.4 218.5L733.2 221.4L733.9 224.3L734.6 227.2L735.4 230.1L736.1 233.1L736.8 236.0L737.4 238.9L738.1 241.9L738.7 244.8L739.4 247.7L740.0 250.7L740.6 253.6L741.3 256.6L741.9 259.5L742.5 262.4L743.1 265.4L743.7 268.3L744.2 271.3L744.8 274.3L745.4 277.2L745.9 280.2L746.5 283.1L747.0 286.1L747.6 289.0L748.1 292.0L748.7 295.0L749.2 297.9L749.7 300.9L750.3 303.8L750.8 306.8L751.3 309.8L751.8 312.7L752.3 315.7L752.8 318.7L753.3 321.6L753.8 324.6L754.3 327.6L754.8 330.5L755.3 333.5L755.8 336.5L756.3 339.4L756.8 342.4L757.3 345.4L757.8 348.3L758.3 351.3L758.7 354.3L759.2 357.2L759.7 360.2L760.1 363.2L760.6 366.1L761.1 369.1L761.6 372.1L762.0 375.1L762.5 378.0L762.9 381.0L763.4 384.0L763.9 387.0L764.3 389.9L764.8 392.9L765.2 395.9L765.7 398.8L766.1 401.8L766.6 404.8L767.0 407.8L767.5 410.7L767.9 413.7L768.4 416.7L768.8 419.7L769.3 422.6L769.7 425.6L770.2 428.6L770.6 431.6L771.0 434.5L771.5 437.5L771.9 440.5L772.4 443.5L772.8 446.4L773.3 449.4L773.7 452.4L774.1 455.4L774.6 458.3L775.0 461.3L775.4 464.3L775.9 467.3L776.3 470.3L776.7 473.2L777.2 476.2L777.6 479.2L778.1 482.2L778.5 485.1L778.9 488.1L779.4 491.1L779.8 494.1L780.2 497.0L780.7 500.0L781.1 503.0L781.5 506.0L782.0 508.9L782.4 511.9L782.8 514.9L783.3 517.9L783.7 520.9L784.1 523.8L784.6 526.8L785.0 529.8L785.4 532.8L785.9 535.7L786.3 538.7L786.8 541.7L787.2 544.7L787.6 547.6L788.1 550.6L788.5 553.6L788.9 556.6L789.4 559.5L789.8 562.5L790.3 565.5L790.7 568.5L791.1 571.4L791.6 574.4L792.0 577.4L792.5 580.4L792.9 583.3L793.4 586.3L793.8 589.3L794.3 592.3L794.7 595.2L795.2 598.2L795.6 601.2L796.1 604.2L796.5 607.1L797.0 610.1L797.4 613.1L797.9 616.1L798.3 619.0L798.8 622.0L799.2 625.0L799.7 628.0L800.2 630.9L800.6 633.9L801.1 636.9L801.6 639.8L802.0 642.8L802.5 645.8L803.0 648.8L803.5 651.7L803.9 654.7L804.4 657.7L804.9 660.6L805.4 663.6L805.9 666.6L806.3 669.5L806.8 672.5L807.3 675.5L807.8 678.4L808.3 681.4L808.8 684.4L809.3 687.3L809.8 690.3L810.3 693.3L810.8 696.2L811.4 699.2L811.9 702.2L812.4 705.1L812.9 708.1L813.4 711.1L814.0 714.0L814.5 717.0L815.0 719.9L815.6 722.9L816.1 725.8L816.7 728.8L817.2 731.8L817.8 734.7L818.4 737.7L818.9 740.6L819.5 743.6L820.1 746.5L820.7 749.5L821.3 752.4L821.9 755.4L822.5 758.3L823.1 761.3L823.8 764.2L824.4 767.1L825.0 770.1L825.7 773.0L826.3 776.0L827.0 778.9L827.7 781.8L828.4 784.7L829.1 787.7L829.8 790.6L830.6 793.5L831.3 796.4L832.1 799.3L832.9 802.2L833.7 805.1L834.5 808.0L835.4 810.9L836.3 813.8L837.2 816.6L838.1 819.5L839.1 822.3L840.2 825.1L841.3 827.9L842.4 830.7L843.7 833.5L845.0 836.2L846.5 838.8L848.1 841.3L850.0 843.6L852.4 845.5L855.2 846.4L858.2 846.1L861.0 844.9L863.4 843.1L865.4 840.8L867.2 838.3L868.8 835.7L870.2 833.0L871.6 830.3L872.9 827.6L874.1 824.8L875.2 821.9L876.3 819.1L877.4 816.3L878.5 813.4L879.5 810.6L880.5 807.7L881.5 804.8L882.5 801.9L883.5 799.0L884.5 796.2L885.4 793.3L886.4 790.4L887.3 787.5L888.3 784.6L889.3 781.7L890.2 778.8L891.2 776.0L892.2 773.1L893.2 770.2L894.2 767.3L895.3 764.5L896.3 761.6L897.4 758.8L898.5 755.9L899.6 753.1L900.8 750.3L902.0 747.5L903.3 744.8L904.6 742.0L906.0 739.3L907.5 736.7L909.1 734.0L910.7 731.5L912.6 729.1L914.5 726.8L916.7 724.7L919.1 722.8L921.8 721.3L924.6 720.2L927.6 719.5L930.6 719.2L933.7 719.1L936.7 719.1L939.7 719.4L942.7 720.2L945.6 721.3L948.3 722.6L951.0 724.2L953.5 725.9L956.0 727.7L958.4 729.6L960.7 731.6L963.0 733.6L965.2 735.7L967.4 737.8L969.6 740.0L971.8 742.1L973.9 744.3L976.1 746.5L978.2 748.7L980.4 750.9L982.5 753.1L984.7 755.2L986.9 757.3L989.2 759.4L991.5 761.4L993.9 763.3L996.4 765.0L999.1 766.5L1002.0 767.4L1004.9 766.7L1007.6 765.3L1010.1 763.7L1012.5 761.9L1014.9 760.0L1017.1 758.0L1019.3 755.9L1021.4 753.8L1023.6 751.7L1025.7 749.5L1027.7 747.3L1029.8 745.2L1031.9 743.0L1034.0 740.8L1036.1 738.7L1038.2 736.5L1040.4 734.4L1042.6 732.3L1044.8 730.3L1047.1 728.4L1049.4 726.5L1051.8 724.7L1054.4 723.1L1057.0 721.6L1059.7 720.4L1062.6 719.5L1065.6 719.1L1068.6 719.3L1071.6 719.9L1074.5 721.1L1077.1 722.6L1079.5 724.5L1081.7 726.5L1083.8 728.8L1085.7 731.1L1087.6 733.6L1089.3 736.1L1090.9 738.7L1092.5 741.3L1094.0 743.9L1095.5 746.6L1096.9 749.3L1098.3 752.1L1099.6 754.8L1100.9 757.6L1102.2 760.3L1103.5 763.1L1104.7 765.9L1105.9 768.7L1107.1 771.5L1108.3 774.3L1109.5 777.1L1110.7 779.9L1111.8 782.8L1113.0 785.6L1114.1 788.4L1115.3 791.2L1116.4 794.1L1117.6 796.9L1118.7 799.7L1119.9 802.5L1121.0 805.4L1122.2 808.2L1123.4 811.0L1124.6 813.8L1125.8 816.6L1127.1 819.4L1128.3 822.2L1129.6 824.9L1130.9 827.7L1132.3 830.4L1133.7 833.1L1135.2 835.8L1136.8 838.4L1138.5 840.9L1140.4 843.4L1142.4 845.6L1144.8 847.5L1147.7 848.4L1150.6 847.8L1153.1 846.1L1155.1 843.8L1156.8 841.4L1158.3 838.8L1159.7 836.1L1160.9 833.4L1162.1 830.6L1163.1 827.8L1164.2 825.0L1165.1 822.1L1166.0 819.3L1166.9 816.4L1167.8 813.5L1168.6 810.7L1169.4 807.8L1170.2 804.9L1170.9 802.0L1171.7 799.1L1172.4 796.1L1173.1 793.2L1173.8 790.3L1174.4 787.4L1175.1 784.4L1175.7 781.5L1176.4 778.6L1177.0 775.6L1177.6 772.7L1178.2 769.8L1178.8 766.8L1179.4 763.9L1180.0 760.9L1180.5 758.0L1181.1 755.0L1181.6 752.1L1182.2 749.1L1182.7 746.2L1183.3 743.2L1183.8 740.3L1184.3 737.3L1184.9 734.4L1185.4 731.4L1185.9 728.5L1186.4 725.5L1186.9 722.5L1187.4 719.6L1187.9 716.6L1188.4 713.7L1188.9 710.7L1189.4 707.7L1189.9 704.8L1190.4 701.8L1190.8 698.9L1191.3 695.9L1191.8 692.9L1192.2 690.0L1192.7 687.0L1193.2 684.0L1193.6 681.1L1194.1 678.1L1194.6 675.1L1195.0 672.2L1195.5 669.2L1195.9 666.2L1196.4 663.3L1196.8 660.3L1197.3 657.3L1197.7 654.4L1198.1 651.4L1198.6 648.4L1199.0 645.5L1199.5 642.5L1199.9 639.5L1200.3 636.6L1200.8 633.6L1201.2 630.6L1201.6 627.6L1202.0 624.7L1202.5 621.7L1202.9 618.7L1203.3 615.8L1203.7 612.8L1204.2 609.8L1204.6 606.8L1205.0 603.9L1205.4 600.9L1205.9 597.9L1206.3 595.0L1206.7 592.0L1207.1 589.0L1207.5 586.0L1207.9 583.1L1208.4 580.1L1208.8 577.1L1209.2 574.2L1209.6 571.2L1210.0 568.2L1210.4 565.2L1210.8 562.3L1211.3 559.3L1211.7 556.3L1212.1 553.3L1212.5 550.4L1212.9 547.4L1213.3 544.4L1213.7 541.5L1214.1 538.5L1214.5 535.5L1215.0 532.5L1215.4 529.6L1215.8 526.6L1216.2 523.6L1216.6 520.6L1217.0 517.7L1217.4 514.7L1217.8 511.7L1218.2 508.8L1218.7 505.8L1219.1 502.8L1219.5 499.8L1219.9 496.9L1220.3 493.9L1220.7 490.9L1221.1 487.9L1221.6 485.0L1222.0 482.0L1222.4 479.0L1222.8 476.1L1223.2 473.1L1223.6 470.1L1224.0 467.1L1224.5 464.2L1224.9 461.2L1225.3 458.2L1225.7 455.3L1226.1 452.3L1226.6 449.3L1227.0 446.3L1227.4 443.4L1227.8 440.4L1228.3 437.4L1228.7 434.5L1229.1 431.5L1229.5 428.5L1230.0 425.5L1230.4 422.6L1230.8 419.6L1231.3 416.6L1231.7 413.7L1232.1 410.7L1232.6 407.7L1233.0 404.8L1233.5 401.8L1233.9 398.8L1234.4 395.9L1234.8 392.9L1235.2 389.9L1235.7 387.0L1236.1 384.0L1236.6 381.0L1237.1 378.1L1237.5 375.1L1238.0 372.1L1238.4 369.2L1238.9 366.2L1239.4 363.2L1239.8 360.3L1240.3 357.3L1240.8 354.3L1241.3 351.4L1241.7 348.4L1242.2 345.4L1242.7 342.5L1243.2 339.5L1243.7 336.6L1244.2 333.6L1244.7 330.6L1245.2 327.7L1245.7 324.7L1246.2 321.8L1246.7 318.8L1247.2 315.9L1247.7 312.9L1248.3 309.9L1248.8 307.0L1249.3 304.0L1249.9 301.1L1250.4 298.1L1251.0 295.2L1251.5 292.2L1252.1 289.3L1252.7 286.3L1253.2 283.4L1253.8 280.5L1254.4 277.5L1255.0 274.6L1255.6 271.6L1256.2 268.7L1256.8 265.8L1257.5 262.8L1258.1 259.9L1258.8 257.0L1259.4 254.0L1260.1 251.1L1260.8 248.2L1261.5 245.3L1262.2 242.3L1262.9 239.4L1263.6 236.5L1264.4 233.6L1265.2 230.7L1266.0 227.8L1266.8 224.9L1267.6 222.1L1268.5 219.2L1269.4 216.3L1270.3 213.5L1271.3 210.6L1272.3 207.8L1273.3 205.0L1274.4 202.2L1275.6 199.4L1276.8 196.7L1278.1 194.0L1279.5 191.3L1281.1 188.8L1282.8 186.3L1284.7 184.0L1286.8 181.9L1289.3 180.2L1292.1 179.2L1295.1 178.9L1298.0 179.7L1300.3 181.5L1302.2 183.8L1303.8 186.4L1305.2 189.0L1306.5 191.8L1307.6 194.6L1308.7 197.4L1309.7 200.2L1310.7 203.0L1311.6 205.9L1312.4 208.8L1313.2 211.7L1314.0 214.6L1314.8 217.5L1315.5 220.4L1316.2 223.3L1316.9 226.3L1317.6 229.2L1318.3 232.1L1318.9 235.1L1319.6 238.0L1320.2 240.9L1320.8 243.9L1321.4 246.8L1322.0 249.8L1322.5 252.7L1323.1 255.7L1323.6 258.6L1324.2 261.6L1324.7 264.6L1325.3 267.5L1325.8 270.5L1326.3 273.4L1326.8 276.4L1327.3 279.4L1327.8 282.3L1328.3 285.3L1328.8 288.3L1329.3 291.2L1329.7 294.2L1330.2 297.2L1330.7 300.1L1331.1 303.1L1331.6 306.1L1332.0 309.1L1332.5 312.0L1332.9 315.0L1333.4 318.0L1333.8 321.0L1334.3 323.9L1334.7 326.9L1335.1 329.9L1335.5 332.9L1336.0 335.8L1336.4 338.8L1336.8 341.8L1337.2 344.8L1337.6 347.7L1338.0 350.7L1338.4 353.7L1338.8 356.7L1339.2 359.7L1339.6 362.6L1340.0 365.6L1340.4 368.6L1340.8 371.6L1341.2 374.6L1341.6 377.6L1342.0 380.5L1342.4 383.5L1342.8 386.5L1343.1 389.5L1343.5 392.5L1343.9 395.4L1344.3 398.4L1344.7 401.4L1345.0 404.4L1345.4 407.4L1345.8 410.4L1346.1 413.3L1346.5 416.3L1346.9 419.3L1347.2 422.3L1347.6 425.3L1348.0 428.3L1348.3 431.3L1348.7 434.2L1349.0 437.2L1349.4 440.2L1349.8 443.2L1350.1 446.2L1350.5 449.2L1350.8 452.2L1351.2 455.1L1351.5 458.1L1351.9 461.1L1352.2 464.1L1352.6 467.1L1352.9 470.1L1353.3 473.1L1353.6 476.0L1354.0 479.0L1354.3 482.0L1354.6 485.0L1355.0 488.0L1355.3 491.0L1355.7 494.0L1356.0 497.0L1356.3 499.9L1356.7 502.9L1357.0 505.9L1357.4 508.9L1357.7 511.9L1358.0 514.9L1358.4 517.9L1358.7 520.9L1359.0 523.8L1359.4 526.8L1359.7 529.8L1360.0 532.8L1360.4 535.8L1360.7 538.8L1361.0 541.8L1361.4 544.8L1361.7 547.7L1362.0 550.7L1362.4 553.7L1362.7 556.7L1363.0 559.7L1363.4 562.7L1363.7 565.7L1364.0 568.7L1364.3 571.7L1364.7 574.6L1365.0 577.6L1365.3 580.6L1365.7 583.6L1366.0 586.6L1366.3 589.6L1366.6 592.6L1367.0 595.6L1367.3 598.6L1367.6 601.5L1367.9 604.5L1368.3 607.5L1368.6 610.5L1368.9 613.5L1369.2 616.5L1369.6 619.5L1369.9 622.5L1370.2 625.5L1370.5 628.4L1370.9 631.4L1371.2 634.4L1371.5 637.4L1371.8 640.4L1372.2 643.4L1372.5 646.4L1372.8 649.4L1373.1 652.4L1373.5 655.3L1373.8 658.3L1374.1 661.3L1374.4 664.3L1374.8 667.3L1375.1 670.3L1375.4 673.3L1375.7 676.3L1376.1 679.3L1376.4 682.3L1376.7 685.2L1377.0 688.2L1377.4 691.2L1377.7 694.2L1378.0 697.2L1378.4 700.2L1378.7 703.2L1379.0 706.2L1379.3 709.1L1379.7 712.1L1380.0 715.1L1380.3 718.1L1380.6 721.1L1381.0 724.1L1381.3 727.1L1381.6 730.1L1382.0 733.1L1382.3 736.0L1382.6 739.0L1383.0 742.0L1383.3 745.0L1383.6 748.0L1384.0 751.0L1384.3 754.0L1384.6 757.0L1385.0 760.0L1385.3 762.9L1385.6 765.9L1386.0 768.9L1386.3 771.9L1386.6 774.9L1387.0 777.9L1387.3 780.9L1387.7 783.9L1388.0 786.8L1388.3 789.8L1388.7 792.8L1389.0 795.8L1389.4 798.8L1389.7 801.8L1390.0 804.8L1390.4 807.8L1390.7 810.7L1391.1 813.7L1391.4 816.7L1391.8 819.7L1392.1 822.7L1392.5 825.7L1392.8 828.7L1393.2 831.6L1393.5 834.6L1393.9 837.6L1394.2 840.6L1394.6 843.6L1395.0 846.6L1395.3 849.6L1395.7 852.5L1396.0 855.5L1396.4 858.5L1396.8 861.5L1397.1 864.5L1397.5 867.5L1397.8 870.5L1398.2 873.4L1398.6 876.4L1399.0 879.4L1399.3 882.4L1399.7 885.4L1400.1 888.4L1400.5 891.3L1400.8 894.3L1401.2 897.3L1401.6 900.3L1402.0 903.3L1402.4 906.2L1402.7 909.2L1403.1 912.2L1403.5 915.2L1403.9 918.2L1404.3 921.2L1404.7 924.1L1405.1 927.1L1405.5 930.1L1405.9 933.1L1406.3 936.1L1406.7 939.0L1407.1 942.0L1407.5 945.0L1407.9 948.0L1408.4 950.9L1408.8 953.9L1409.2 956.9L1409.6 959.9L1410.1 962.9L1410.5 965.8L1410.9 968.8L1411.4 971.8L1411.8 974.8L1412.2 977.7L1412.7 980.7L1413.1 983.7L1413.6 986.6L1414.0 989.6L1414.5 992.6L1415.0 995.6L1415.4 998.5L1415.9 1001.5L1416.4 1004.5L1416.9 1007.4L1417.4 1010.4L1417.9 1013.4L1418.4 1016.3L1418.9 1019.3L1419.4 1022.3L1419.9 1025.2L1420.4 1028.2L1421.0 1031.1L1421.5 1034.1L1422.0 1037.1L1422.6 1040.0L1423.2 1043.0L1423.7 1045.9L1424.3 1048.9L1424.9 1051.8L1425.5 1054.8L1426.1 1057.7L1426.7 1060.6L1427.4 1063.6L1428.0 1066.5L1428.7 1069.5L1429.4 1072.4L1430.0 1075.3L1430.8 1078.2L1431.5 1081.1L1432.2 1084.1L1433.0 1087.0L1433.8 1089.9L1434.6 1092.8L1435.5 1095.6L1436.4 1098.5L1437.4 1101.4L1438.3 1104.2L1439.4 1107.0L1440.5 1109.8L1441.7 1112.6L1443.0 1115.3L1444.4 1117.9L1446.0 1120.5L1447.8 1122.9L1450.0 1125.0L1452.6 1126.5L1455.5 1127.0L1458.3 1126.0L1460.7 1124.1L1462.7 1121.9L1464.5 1119.5L1466.2 1116.9L1467.7 1114.3L1469.2 1111.7L1470.6 1109.0L1471.9 1106.3L1473.3 1103.5L1474.5 1100.8L1475.8 1098.0L1477.1 1095.3L1478.3 1092.5L1479.5 1089.7L1480.7 1087.0L1481.9 1084.2L1483.1 1081.4L1484.4 1078.6L1485.6 1075.9L1486.8 1073.1L1488.0 1070.3L1489.3 1067.6L1490.6 1064.8L1491.9 1062.1L1493.2 1059.4L1494.5 1056.7L1495.9 1054.0L1497.4 1051.3L1498.9 1048.7L1500.4 1046.1L1502.1 1043.5L1503.8 1041.0L1505.7 1038.6L1507.7 1036.4L1509.8 1034.3L1512.2 1032.4L1514.9 1031.0L1517.8 1030.1L1520.8 1029.8L1523.8 1030.0L1526.7 1030.7L1529.4 1032.0L1531.8 1033.7L1534.0 1035.8L1536.0 1038.0L1537.8 1040.4L1539.5 1042.9L1541.1 1045.4L1542.6 1048.0L1544.1 1050.6L1545.5 1053.3L1546.8 1056.0L1548.1 1058.7L1549.3 1061.4L1550.6 1064.2L1551.8 1066.9L1553.0 1069.7L1554.2 1072.4L1555.3 1075.2L1556.5 1077.9L1557.7 1080.7L1558.8 1083.5L1560.0 1086.2L1561.2 1089.0L1562.4 1091.8L1563.6 1094.5L1564.8 1097.3L1566.0 1100.0L1567.3 1102.7L1568.6 1105.4L1569.9 1108.1L1571.3 1110.7L1572.8 1113.3L1574.4 1115.9L1576.1 1118.4L1577.9 1120.7L1580.0 1122.9L1582.3 1124.8L1585.0 1126.1L1588.0 1126.5L1591.0 1126.1L1593.6 1124.6L1595.8 1122.6L1597.6 1120.2L1599.3 1117.7L1600.7 1115.1L1602.0 1112.4L1603.2 1109.6L1604.3 1106.8L1605.3 1104.0L1606.3 1101.1L1607.2 1098.3L1608.1 1095.4L1608.9 1092.5L1609.8 1089.7L1610.5 1086.8L1611.3 1083.9L1612.0 1080.9L1612.8 1078.0L1613.5 1075.1L1614.1 1072.2L1614.8 1069.2L1615.4 1066.3L1616.1 1063.4L1616.7 1060.4L1617.3 1057.5L1617.9 1054.6L1618.5 1051.6L1619.1 1048.7L1619.6 1045.7L1620.2 1042.8L1620.7 1039.8L1621.3 1036.9L1621.8 1033.9L1622.3 1030.9L1622.8 1028.0L1623.3 1025.0L1623.9 1022.1L1624.3 1019.1L1624.8 1016.1L1625.3 1013.2L1625.8 1010.2L1626.3 1007.2L1626.8 1004.3L1627.2 1001.3L1627.7 998.3L1628.1 995.4L1628.6 992.4L1629.0 989.4L1629.5 986.5L1629.9 983.5L1630.4 980.5L1630.8 977.6L1631.2 974.6L1631.7 971.6L1632.1 968.6L1632.5 965.7L1632.9 962.7L1633.4 959.7L1633.8 956.7L1634.2 953.8L1634.6 950.8L1635.0 947.8L1635.4 944.8L1635.8 941.9L1636.2 938.9L1636.6 935.9L1637.0 932.9L1637.4 930.0L1637.8 927.0L1638.2 924.0L1638.5 921.0L1638.9 918.0L1639.3 915.1L1639.7 912.1L1640.1 909.1L1640.4 906.1L1640.8 903.2L1641.2 900.2L1641.6 897.2L1641.9 894.2L1642.3 891.2L1642.7 888.3L1643.0 885.3L1643.4 882.3L1643.8 879.3L1644.1 876.3L1644.5 873.3L1644.9 870.4L1645.2 867.4L1645.6 864.4L1645.9 861.4L1646.3 858.4L1646.6 855.5L1647.0 852.5L1647.3 849.5L1647.7 846.5L1648.1 843.5L1648.4 840.5L1648.7 837.6L1649.1 834.6L1649.4 831.6L1649.8 828.6L1650.1 825.6L1650.5 822.6L1650.8 819.7L1651.2 816.7L1651.5 813.7L1651.8 810.7L1652.2 807.7L1652.5 804.7L1652.9 801.8L1653.2 798.8L1653.5 795.8L1653.9 792.8L1654.2 789.8L1654.6 786.8L1654.9 783.9L1655.2 780.9L1655.6 777.9L1655.9 774.9L1656.2 771.9L1656.6 768.9L1656.9 765.9L1657.2 763.0L1657.6 760.0L1657.9 757.0L1658.2 754.0L1658.6 751.0L1658.9 748.0L1659.2 745.1L1659.6 742.1L1659.9 739.1L1660.2 736.1L1660.5 733.1L1660.9 730.1L1661.2 727.1L1661.5 724.2L1661.9 721.2L1662.2 718.2L1662.5 715.2L1662.9 712.2L1663.2 709.2L1663.5 706.3L1663.8 703.3L1664.2 700.3L1664.5 697.3L1664.8 694.3L1665.2 691.3L1665.5 688.3L1665.8 685.4L1666.1 682.4L1666.5 679.4L1666.8 676.4L1667.1 673.4L1667.5 670.4L1667.8 667.4L1668.1 664.5L1668.4 661.5L1668.8 658.5L1669.1 655.5L1669.4 652.5L1669.8 649.5L1670.1 646.5L1670.4 643.6L1670.7 640.6L1671.1 637.6L1671.4 634.6L1671.7 631.6L1672.1 628.6L1672.4 625.7L1672.7 622.7L1673.1 619.7L1673.4 616.7L1673.7 613.7L1674.1 610.7L1674.4 607.7L1674.7 604.8L1675.1 601.8L1675.4 598.8L1675.7 595.8L1676.1 592.8L1676.4 589.8L1676.8 586.9L1677.1 583.9L1677.4 580.9L1677.8 577.9L1678.1 574.9L1678.5 571.9L1678.8 569.0L1679.1 566.0L1679.5 563.0L1679.8 560.0L1680.2 557.0L1680.5 554.0L1680.9 551.1L1681.2 548.1L1681.5 545.1L1681.9 542.1L1682.2 539.1L1682.6 536.1L1682.9 533.2L1683.3 530.2L1683.7 527.2L1684.0 524.2L1684.4 521.2L1684.7 518.2L1685.1 515.3L1685.4 512.3L1685.8 509.3L1686.2 506.3L1686.5 503.3L1686.9 500.4L1687.2 497.4L1687.6 494.4L1688.0 491.4L1688.3 488.4L1688.7 485.5L1689.1 482.5L1689.5 479.5L1689.8 476.5L1690.2 473.5L1690.6 470.6L1691.0 467.6L1691.3 464.6L1691.7 461.6L1692.1 458.6L1692.5 455.7L1692.9 452.7L1693.3 449.7L1693.7 446.7L1694.1 443.8L1694.5 440.8L1694.9 437.8L1695.3 434.8L1695.7 431.9L1696.1 428.9L1696.5 425.9L1696.9 422.9L1697.3 420.0L1697.7 417.0L1698.2 414.0L1698.6 411.0L1699.0 408.1L1699.4 405.1L1699.9 402.1L1700.3 399.1L1700.8 396.2L1701.2 393.2L1701.6 390.2L1702.1 387.3L1702.6 384.3L1703.0 381.3L1703.5 378.4L1704.0 375.4L1704.4 372.4L1704.9 369.5L1705.4 366.5L1705.9 363.5L1706.4 360.6L1706.9 357.6L1707.4 354.7L1707.9 351.7L1708.4 348.7L1709.0 345.8L1709.5 342.8L1710.0 339.9L1710.6 336.9L1711.2 334.0L1711.7 331.0L1712.3 328.1L1712.9 325.1L1713.5 322.2L1714.1 319.3L1714.7 316.3L1715.4 313.4L1716.0 310.5L1716.7 307.5L1717.4 304.6L1718.1 301.7L1718.9 298.8L1719.6 295.9L1720.4 293.0L1721.2 290.1L1722.1 287.2L1722.9 284.3L1723.9 281.5L1724.8 278.6L1725.9 275.8L1726.9 273.0L1728.1 270.2L1729.4 267.5L1730.8 264.9L1732.4 262.3L1734.2 260.0L1736.4 257.9L1739.0 256.5L1742.0 256.0"/>
<path id="cb" d="M252.0 254.0L255.0 254.2L257.8 255.1L260.4 256.7L262.6 258.7L264.5 261.0L266.3 263.5L267.8 266.1L269.2 268.7L270.5 271.4L271.7 274.2L272.9 276.9L273.9 279.7L275.0 282.6L275.9 285.4L276.9 288.3L277.8 291.1L278.6 294.0L279.5 296.9L280.3 299.8L281.1 302.7L281.8 305.6L282.6 308.5L283.3 311.4L284.0 314.3L284.7 317.2L285.3 320.2L286.0 323.1L286.7 326.0L287.3 329.0L287.9 331.9L288.5 334.8L289.1 337.8L289.7 340.7L290.3 343.7L290.9 346.6L291.4 349.6L292.0 352.5L292.5 355.5L293.1 358.4L293.6 361.4L294.1 364.3L294.7 367.3L295.2 370.2L295.7 373.2L296.2 376.1L296.7 379.1L297.2 382.1L297.7 385.0L298.2 388.0L298.6 391.0L299.1 393.9L299.6 396.9L300.1 399.8L300.5 402.8L301.0 405.8L301.4 408.7L301.9 411.7L302.3 414.7L302.8 417.7L303.2 420.6L303.7 423.6L304.1 426.6L304.5 429.5L305.0 432.5L305.4 435.5L305.8 438.4L306.2 441.4L306.6 444.4L307.1 447.4L307.5 450.3L307.9 453.3L308.3 456.3L308.7 459.3L309.1 462.2L309.5 465.2L309.9 468.2L310.3 471.2L310.7 474.1L311.1 477.1L311.5 480.1L311.9 483.1L312.3 486.0L312.7 489.0L313.0 492.0L313.4 495.0L313.8 497.9L314.2 500.9L314.6 503.9L314.9 506.9L315.3 509.9L315.7 512.8L316.1 515.8L316.4 518.8L316.8 521.8L317.2 524.7L317.6 527.7L317.9 530.7L318.3 533.7L318.6 536.7L319.0 539.6L319.4 542.6L319.7 545.6L320.1 548.6L320.5 551.6L320.8 554.5L321.2 557.5L321.5 560.5L321.9 563.5L322.2 566.5L322.6 569.4L322.9 572.4L323.3 575.4L323.6 578.4L324.0 581.4L324.3 584.4L324.7 587.3L325.0 590.3L325.4 593.3L325.7 596.3L326.1 599.3L326.4 602.2L326.8 605.2L327.1 608.2L327.5 611.2L327.8 614.2L328.1 617.2L328.5 620.1L328.8 623.1L329.2 626.1L329.5 629.1L329.8 632.1L330.2 635.1L330.5 638.0L330.9 641.0L331.2 644.0L331.5 647.0L331.9 650.0L332.2 652.9L332.5 655.9L332.9 658.9L333.2 661.9L333.6 664.9L333.9 667.9L334.2 670.8L334.6 673.8L334.9 676.8L335.2 679.8L335.6 682.8L335.9 685.8L336.2 688.7L336.6 691.7L336.9 694.7L337.2 697.7L337.6 700.7L337.9 703.7L338.2 706.6L338.6 709.6L338.9 712.6L339.2 715.6L339.6 718.6L339.9 721.6L340.2 724.5L340.6 727.5L340.9 730.5L341.2 733.5L341.6 736.5L341.9 739.5L342.2 742.4L342.6 745.4L342.9 748.4L343.2 751.4L343.6 754.4L343.9 757.4L344.2 760.3L344.6 763.3L344.9 766.3L345.2 769.3L345.6 772.3L345.9 775.3L346.2 778.2L346.6 781.2L346.9 784.2L347.3 787.2L347.6 790.2L347.9 793.2L348.3 796.1L348.6 799.1L348.9 802.1L349.3 805.1L349.6 808.1L350.0 811.0L350.3 814.0L350.6 817.0L351.0 820.0L351.3 823.0L351.7 826.0L352.0 828.9L352.4 831.9L352.7 834.9L353.1 837.9L353.4 840.9L353.7 843.8L354.1 846.8L354.4 849.8L354.8 852.8L355.1 855.8L355.5 858.8L355.8 861.7L356.2 864.7L356.5 867.7L356.9 870.7L357.3 873.7L357.6 876.6L358.0 879.6L358.3 882.6L358.7 885.6L359.0 888.6L359.4 891.5L359.8 894.5L360.1 897.5L360.5 900.5L360.9 903.5L361.2 906.4L361.6 909.4L362.0 912.4L362.3 915.4L362.7 918.4L363.1 921.3L363.5 924.3L363.8 927.3L364.2 930.3L364.6 933.2L365.0 936.2L365.4 939.2L365.8 942.2L366.1 945.2L366.5 948.1L366.9 951.1L367.3 954.1L367.7 957.1L368.1 960.0L368.5 963.0L368.9 966.0L369.3 969.0L369.7 971.9L370.1 974.9L370.6 977.9L371.0 980.8L371.4 983.8L371.8 986.8L372.2 989.8L372.7 992.7L373.1 995.7L373.5 998.7L374.0 1001.6L374.4 1004.6L374.9 1007.6L375.3 1010.6L375.8 1013.5L376.2 1016.5L376.7 1019.5L377.1 1022.4L377.6 1025.4L378.1 1028.3L378.6 1031.3L379.0 1034.3L379.5 1037.2L380.0 1040.2L380.5 1043.2L381.0 1046.1L381.6 1049.1L382.1 1052.0L382.6 1055.0L383.1 1057.9L383.7 1060.9L384.2 1063.8L384.8 1066.8L385.4 1069.7L386.0 1072.7L386.6 1075.6L387.2 1078.6L387.8 1081.5L388.4 1084.4L389.1 1087.4L389.7 1090.3L390.4 1093.2L391.1 1096.1L391.8 1099.0L392.6 1102.0L393.4 1104.9L394.2 1107.7L395.0 1110.6L395.9 1113.5L396.8 1116.4L397.7 1119.2L398.8 1122.0L399.9 1124.8L401.1 1127.6L402.4 1130.3L403.8 1132.9L405.5 1135.4L407.5 1137.6L410.0 1139.3L412.9 1139.9L415.3 1138.2L417.2 1135.8L418.9 1133.3L420.4 1130.7L421.9 1128.0L423.3 1125.3L424.6 1122.6L425.9 1119.9L427.2 1117.1L428.4 1114.4L429.6 1111.6L430.8 1108.8L432.0 1106.0L433.2 1103.3L434.4 1100.5L435.6 1097.7L436.8 1094.9L438.0 1092.1L439.2 1089.3L440.4 1086.6L441.6 1083.8L442.8 1081.0L444.1 1078.3L445.3 1075.5L446.6 1072.8L447.9 1070.0L449.3 1067.3L450.6 1064.6L452.0 1061.9L453.5 1059.2L454.9 1056.6L456.5 1054.0L458.1 1051.4L459.7 1048.9L461.5 1046.4L463.3 1044.0L465.3 1041.7L467.4 1039.5L469.6 1037.5L472.1 1035.8L474.8 1034.4L477.7 1033.5L480.7 1033.2L483.7 1033.5L486.5 1034.5L489.1 1036.0L491.5 1037.8L493.7 1039.9L495.8 1042.1L497.7 1044.4L499.5 1046.8L501.2 1049.2L502.8 1051.8L504.4 1054.3L505.9 1056.9L507.4 1059.6L508.8 1062.2L510.2 1064.9L511.5 1067.6L512.8 1070.3L514.1 1073.0L515.4 1075.7L516.6 1078.4L517.9 1081.2L519.1 1083.9L520.3 1086.7L521.5 1089.4L522.7 1092.2L523.9 1094.9L525.1 1097.7L526.2 1100.5L527.4 1103.2L528.6 1106.0L529.8 1108.8L531.0 1111.5L532.2 1114.3L533.4 1117.0L534.7 1119.7L535.9 1122.5L537.2 1125.2L538.6 1127.9L540.0 1130.5L541.5 1133.1L543.1 1135.7L544.9 1138.1L547.2 1139.9L550.1 1139.2L552.5 1137.5L554.5 1135.2L556.2 1132.7L557.7 1130.1L559.0 1127.4L560.2 1124.7L561.3 1121.9L562.3 1119.1L563.3 1116.2L564.2 1113.4L565.1 1110.5L566.0 1107.6L566.8 1104.7L567.6 1101.8L568.3 1098.9L569.1 1096.0L569.8 1093.1L570.5 1090.2L571.2 1087.2L571.8 1084.3L572.5 1081.4L573.1 1078.4L573.8 1075.5L574.4 1072.6L575.0 1069.6L575.6 1066.7L576.1 1063.7L576.7 1060.8L577.3 1057.8L577.8 1054.9L578.4 1051.9L578.9 1049.0L579.4 1046.0L579.9 1043.1L580.5 1040.1L581.0 1037.1L581.5 1034.2L582.0 1031.2L582.5 1028.3L583.0 1025.3L583.4 1022.3L583.9 1019.4L584.4 1016.4L584.9 1013.4L585.3 1010.5L585.8 1007.5L586.2 1004.5L586.7 1001.6L587.1 998.6L587.6 995.6L588.0 992.6L588.5 989.7L588.9 986.7L589.3 983.7L589.8 980.8L590.2 977.8L590.6 974.8L591.0 971.8L591.4 968.9L591.9 965.9L592.3 962.9L592.7 959.9L593.1 957.0L593.5 954.0L593.9 951.0L594.3 948.0L594.7 945.1L595.1 942.1L595.5 939.1L595.9 936.1L596.3 933.1L596.6 930.2L597.0 927.2L597.4 924.2L597.8 921.2L598.2 918.3L598.6 915.3L598.9 912.3L599.3 909.3L599.7 906.3L600.1 903.4L600.4 900.4L600.8 897.4L601.2 894.4L601.6 891.4L601.9 888.5L602.3 885.5L602.6 882.5L603.0 879.5L603.4 876.5L603.7 873.5L604.1 870.6L604.5 867.6L604.8 864.6L605.2 861.6L605.5 858.6L605.9 855.7L606.2 852.7L606.6 849.7L606.9 846.7L607.3 843.7L607.6 840.7L608.0 837.8L608.3 834.8L608.7 831.8L609.0 828.8L609.4 825.8L609.7 822.8L610.1 819.9L610.4 816.9L610.7 813.9L611.1 810.9L611.4 807.9L611.8 804.9L612.1 802.0L612.5 799.0L612.8 796.0L613.1 793.0L613.5 790.0L613.8 787.0L614.1 784.0L614.5 781.1L614.8 778.1L615.1 775.1L615.5 772.1L615.8 769.1L616.2 766.1L616.5 763.2L616.8 760.2L617.2 757.2L617.5 754.2L617.8 751.2L618.1 748.2L618.5 745.2L618.8 742.3L619.1 739.3L619.5 736.3L619.8 733.3L620.1 730.3L620.5 727.3L620.8 724.3L621.1 721.4L621.4 718.4L621.8 715.4L622.1 712.4L622.4 709.4L622.8 706.4L623.1 703.4L623.4 700.5L623.7 697.5L624.1 694.5L624.4 691.5L624.7 688.5L625.1 685.5L625.4 682.6L625.7 679.6L626.0 676.6L626.4 673.6L626.7 670.6L627.0 667.6L627.3 664.6L627.7 661.7L628.0 658.7L628.3 655.7L628.6 652.7L629.0 649.7L629.3 646.7L629.6 643.7L630.0 640.8L630.3 637.8L630.6 634.8L630.9 631.8L631.3 628.8L631.6 625.8L631.9 622.8L632.2 619.9L632.6 616.9L632.9 613.9L633.2 610.9L633.6 607.9L633.9 604.9L634.2 601.9L634.5 599.0L634.9 596.0L635.2 593.0L635.5 590.0L635.9 587.0L636.2 584.0L636.5 581.0L636.9 578.1L637.2 575.1L637.5 572.1L637.9 569.1L638.2 566.1L638.5 563.1L638.9 560.2L639.2 557.2L639.5 554.2L639.9 551.2L640.2 548.2L640.5 545.2L640.9 542.2L641.2 539.3L641.5 536.3L641.9 533.3L642.2 530.3L642.6 527.3L642.9 524.3L643.2 521.4L643.6 518.4L643.9 515.4L644.3 512.4L644.6 509.4L644.9 506.4L645.3 503.5L645.6 500.5L646.0 497.5L646.3 494.5L646.7 491.5L647.0 488.5L647.4 485.6L647.7 482.6L648.1 479.6L648.4 476.6L648.8 473.6L649.1 470.6L649.5 467.7L649.8 464.7L650.2 461.7L650.5 458.7L650.9 455.7L651.3 452.7L651.6 449.8L652.0 446.8L652.3 443.8L652.7 440.8L653.1 437.8L653.4 434.9L653.8 431.9L654.2 428.9L654.5 425.9L654.9 422.9L655.3 420.0L655.7 417.0L656.0 414.0L656.4 411.0L656.8 408.0L657.2 405.1L657.6 402.1L657.9 399.1L658.3 396.1L658.7 393.1L659.1 390.2L659.5 387.2L659.9 384.2L660.3 381.2L660.7 378.3L661.1 375.3L661.5 372.3L661.9 369.3L662.3 366.3L662.7 363.4L663.1 360.4L663.5 357.4L663.9 354.4L664.3 351.5L664.7 348.5L665.2 345.5L665.6 342.5L666.0 339.6L666.4 336.6L666.9 333.6L667.3 330.7L667.7 327.7L668.2 324.7L668.6 321.7L669.1 318.8L669.5 315.8L670.0 312.8L670.4 309.9L670.9 306.9L671.4 303.9L671.8 301.0L672.3 298.0L672.8 295.0L673.3 292.1L673.8 289.1L674.2 286.1L674.7 283.2L675.2 280.2L675.8 277.3L676.3 274.3L676.8 271.3L677.3 268.4L677.8 265.4L678.4 262.5L678.9 259.5L679.5 256.6L680.1 253.6L680.6 250.7L681.2 247.7L681.8 244.8L682.4 241.8L683.0 238.9L683.6 236.0L684.3 233.0L684.9 230.1L685.6 227.2L686.2 224.2L686.9 221.3L687.6 218.4L688.4 215.5L689.1 212.6L689.9 209.7L690.7 206.8L691.5 203.9L692.3 201.0L693.2 198.1L694.1 195.3L695.1 192.4L696.1 189.6L697.2 186.8L698.3 184.0L699.6 181.3L700.9 178.6L702.3 175.9L704.0 173.4L705.8 171.1L708.0 169.0L710.7 167.6L713.6 167.1L716.6 167.5L719.3 168.7L721.6 170.6L723.6 172.9L725.3 175.4L726.9 177.9L728.3 180.6L729.6 183.3L730.7 186.1L731.9 188.9L732.9 191.7L733.9 194.5L734.9 197.4L735.8 200.2L736.7 203.1L737.5 206.0L738.3 208.9L739.1 211.8L739.9 214.7L740.7 217.6L741.4 220.5L742.1 223.4L742.8 226.4L743.5 229.3L744.2 232.2L744.8 235.2L745.5 238.1L746.1 241.0L746.7 244.0L747.3 246.9L747.9 249.9L748.5 252.8L749.1 255.8L749.7 258.7L750.2 261.7L750.8 264.6L751.4 267.6L751.9 270.5L752.4 273.5L753.0 276.4L753.5 279.4L754.0 282.4L754.5 285.3L755.0 288.3L755.6 291.3L756.1 294.2L756.6 297.2L757.0 300.2L757.5 303.1L758.0 306.1L758.5 309.1L759.0 312.0L759.4 315.0L759.9 318.0L760.4 320.9L760.8 323.9L761.3 326.9L761.8 329.8L762.2 332.8L762.7 335.8L763.1 338.8L763.6 341.7L764.0 344.7L764.4 347.7L764.9 350.7L765.3 353.6L765.7 356.6L766.2 359.6L766.6 362.6L767.0 365.5L767.4 368.5L767.9 371.5L768.3 374.5L768.7 377.5L769.1 380.4L769.5 383.4L770.0 386.4L770.4 389.4L770.8 392.3L771.2 395.3L771.6 398.3L772.0 401.3L772.4 404.3L772.8 407.2L773.2 410.2L773.6 413.2L774.0 416.2L774.4 419.2L774.8 422.1L775.2 425.1L775.6 428.1L776.0 431.1L776.4 434.1L776.8 437.0L777.2 440.0L777.5 443.0L777.9 446.0L778.3 449.0L778.7 452.0L779.1 454.9L779.5 457.9L779.9 460.9L780.2 463.9L780.6 466.9L781.0 469.8L781.4 472.8L781.8 475.8L782.2 478.8L782.5 481.8L782.9 484.8L783.3 487.7L783.7 490.7L784.1 493.7L784.4 496.7L784.8 499.7L785.2 502.7L785.6 505.6L785.9 508.6L786.3 511.6L786.7 514.6L787.1 517.6L787.4 520.5L787.8 523.5L788.2 526.5L788.6 529.5L788.9 532.5L789.3 535.5L789.7 538.4L790.1 541.4L790.4 544.4L790.8 547.4L791.2 550.4L791.6 553.4L791.9 556.3L792.3 559.3L792.7 562.3L793.1 565.3L793.4 568.3L793.8 571.3L794.2 574.2L794.6 577.2L794.9 580.2L795.3 583.2L795.7 586.2L796.1 589.2L796.4 592.1L796.8 595.1L797.2 598.1L797.6 601.1L798.0 604.1L798.3 607.1L798.7 610.0L799.1 613.0L799.5 616.0L799.9 619.0L800.2 622.0L800.6 625.0L801.0 627.9L801.4 630.9L801.8 633.9L802.2 636.9L802.6 639.9L802.9 642.8L803.3 645.8L803.7 648.8L804.1 651.8L804.5 654.8L804.9 657.8L805.3 660.7L805.7 663.7L806.1 666.7L806.5 669.7L806.9 672.7L807.3 675.6L807.7 678.6L808.1 681.6L808.5 684.6L808.9 687.6L809.3 690.5L809.7 693.5L810.1 696.5L810.5 699.5L810.9 702.4L811.3 705.4L811.8 708.4L812.2 711.4L812.6 714.4L813.0 717.3L813.4 720.3L813.9 723.3L814.3 726.3L814.7 729.2L815.2 732.2L815.6 735.2L816.0 738.2L816.5 741.1L816.9 744.1L817.3 747.1L817.8 750.1L818.2 753.0L818.7 756.0L819.2 759.0L819.6 761.9L820.1 764.9L820.5 767.9L821.0 770.9L821.5 773.8L822.0 776.8L822.4 779.8L822.9 782.7L823.4 785.7L823.9 788.7L824.4 791.6L824.9 794.6L825.4 797.6L825.9 800.5L826.5 803.5L827.0 806.4L827.5 809.4L828.1 812.4L828.6 815.3L829.2 818.3L829.7 821.2L830.3 824.2L830.9 827.1L831.5 830.1L832.1 833.0L832.7 836.0L833.3 838.9L833.9 841.8L834.6 844.8L835.2 847.7L835.9 850.7L836.6 853.6L837.3 856.5L838.0 859.4L838.7 862.3L839.5 865.2L840.3 868.1L841.1 871.0L841.9 873.9L842.8 876.8L843.7 879.7L844.7 882.5L845.7 885.3L846.8 888.1L847.9 890.9L849.2 893.7L850.6 896.3L852.1 898.9L853.9 901.4L855.9 903.5L858.5 905.1L861.4 905.7L864.4 905.3L867.1 904.0L869.4 902.1L871.4 899.7L873.1 897.2L874.6 894.6L876.0 891.9L877.3 889.1L878.5 886.4L879.6 883.6L880.8 880.7L881.8 877.9L882.9 875.0L883.9 872.2L884.9 869.3L885.8 866.4L886.8 863.5L887.7 860.7L888.6 857.8L889.6 854.9L890.5 852.0L891.4 849.1L892.3 846.2L893.2 843.3L894.1 840.4L895.0 837.5L895.9 834.6L896.8 831.7L897.8 828.8L898.7 825.9L899.6 823.0L900.6 820.2L901.5 817.3L902.5 814.4L903.5 811.5L904.5 808.7L905.6 805.8L906.7 803.0L907.8 800.2L908.9 797.4L910.1 794.6L911.3 791.8L912.6 789.0L913.9 786.3L915.4 783.6L916.9 781.0L918.5 778.4L920.2 775.9L922.1 773.5L924.1 771.3L926.4 769.3L928.9 767.5L931.6 766.1L934.4 765.2L937.4 764.6L940.4 764.3L943.5 764.2L946.5 764.2L949.5 764.5L952.4 765.2L955.2 766.4L957.9 767.9L960.4 769.6L962.8 771.4L965.2 773.3L967.5 775.3L969.7 777.4L971.9 779.5L974.1 781.6L976.2 783.7L978.4 785.8L980.6 787.9L982.9 789.9L985.2 791.9L987.5 793.8L990.0 795.6L992.5 797.2L995.2 798.6L998.0 799.8L1001.0 800.5L1004.0 800.7L1007.0 800.4L1009.9 799.6L1012.7 798.4L1015.3 796.9L1017.8 795.2L1020.2 793.4L1022.5 791.5L1024.7 789.5L1026.9 787.4L1029.1 785.4L1031.3 783.3L1033.5 781.2L1035.7 779.1L1037.9 777.1L1040.2 775.1L1042.5 773.2L1044.9 771.3L1047.4 769.6L1049.9 768.1L1052.6 766.7L1055.4 765.6L1058.3 764.8L1061.3 764.3L1064.3 764.2L1067.3 764.4L1070.3 765.2L1073.0 766.4L1075.5 768.1L1077.8 770.1L1080.0 772.3L1081.9 774.6L1083.8 777.0L1085.5 779.5L1087.1 782.1L1088.7 784.7L1090.2 787.3L1091.6 790.0L1093.0 792.7L1094.3 795.4L1095.6 798.2L1096.9 800.9L1098.1 803.7L1099.4 806.5L1100.6 809.3L1101.7 812.1L1102.9 814.9L1104.0 817.7L1105.2 820.5L1106.3 823.3L1107.4 826.1L1108.5 829.0L1109.6 831.8L1110.7 834.6L1111.8 837.5L1112.9 840.3L1113.9 843.2L1115.0 846.0L1116.1 848.8L1117.2 851.7L1118.3 854.5L1119.4 857.3L1120.5 860.2L1121.6 863.0L1122.7 865.8L1123.9 868.6L1125.0 871.4L1126.2 874.2L1127.4 877.0L1128.6 879.8L1129.9 882.5L1131.2 885.3L1132.6 888.0L1134.0 890.7L1135.5 893.3L1137.0 895.9L1138.7 898.5L1140.6 900.9L1142.7 903.0L1145.1 904.8L1148.0 905.7L1150.9 905.1L1153.5 903.6L1155.6 901.4L1157.4 899.0L1158.9 896.5L1160.3 893.8L1161.6 891.1L1162.8 888.3L1163.9 885.5L1164.9 882.7L1165.9 879.9L1166.9 877.0L1167.8 874.2L1168.6 871.3L1169.5 868.4L1170.3 865.5L1171.1 862.6L1171.8 859.7L1172.6 856.8L1173.3 853.9L1174.0 851.0L1174.7 848.1L1175.3 845.1L1176.0 842.2L1176.6 839.3L1177.3 836.3L1177.9 833.4L1178.5 830.5L1179.1 827.5L1179.7 824.6L1180.3 821.6L1180.9 818.7L1181.4 815.7L1182.0 812.8L1182.6 809.8L1183.1 806.9L1183.6 803.9L1184.2 801.0L1184.7 798.0L1185.2 795.1L1185.7 792.1L1186.3 789.2L1186.8 786.2L1187.3 783.2L1187.8 780.3L1188.3 777.3L1188.8 774.4L1189.2 771.4L1189.7 768.4L1190.2 765.5L1190.7 762.5L1191.1 759.5L1191.6 756.6L1192.1 753.6L1192.5 750.6L1193.0 747.7L1193.4 744.7L1193.9 741.7L1194.4 738.8L1194.8 735.8L1195.2 732.8L1195.7 729.9L1196.1 726.9L1196.6 723.9L1197.0 721.0L1197.4 718.0L1197.9 715.0L1198.3 712.0L1198.7 709.1L1199.1 706.1L1199.6 703.1L1200.0 700.2L1200.4 697.2L1200.8 694.2L1201.2 691.2L1201.7 688.3L1202.1 685.3L1202.5 682.3L1202.9 679.4L1203.3 676.4L1203.7 673.4L1204.1 670.4L1204.5 667.5L1204.9 664.5L1205.3 661.5L1205.7 658.5L1206.1 655.6L1206.5 652.6L1206.9 649.6L1207.3 646.6L1207.7 643.7L1208.1 640.7L1208.5 637.7L1208.9 634.7L1209.3 631.8L1209.7 628.8L1210.1 625.8L1210.5 622.8L1210.9 619.8L1211.3 616.9L1211.6 613.9L1212.0 610.9L1212.4 607.9L1212.8 605.0L1213.2 602.0L1213.6 599.0L1214.0 596.0L1214.3 593.1L1214.7 590.1L1215.1 587.1L1215.5 584.1L1215.9 581.1L1216.3 578.2L1216.6 575.2L1217.0 572.2L1217.4 569.2L1217.8 566.3L1218.2 563.3L1218.6 560.3L1218.9 557.3L1219.3 554.3L1219.7 551.4L1220.1 548.4L1220.5 545.4L1220.8 542.4L1221.2 539.5L1221.6 536.5L1222.0 533.5L1222.4 530.5L1222.7 527.6L1223.1 524.6L1223.5 521.6L1223.9 518.6L1224.3 515.6L1224.7 512.7L1225.0 509.7L1225.4 506.7L1225.8 503.7L1226.2 500.8L1226.6 497.8L1226.9 494.8L1227.3 491.8L1227.7 488.8L1228.1 485.9L1228.5 482.9L1228.9 479.9L1229.3 476.9L1229.6 474.0L1230.0 471.0L1230.4 468.0L1230.8 465.0L1231.2 462.1L1231.6 459.1L1232.0 456.1L1232.4 453.1L1232.7 450.1L1233.1 447.2L1233.5 444.2L1233.9 441.2L1234.3 438.2L1234.7 435.3L1235.1 432.3L1235.5 429.3L1235.9 426.3L1236.3 423.4L1236.7 420.4L1237.1 417.4L1237.5 414.4L1237.9 411.5L1238.3 408.5L1238.7 405.5L1239.1 402.5L1239.5 399.6L1239.9 396.6L1240.3 393.6L1240.8 390.6L1241.2 387.7L1241.6 384.7L1242.0 381.7L1242.4 378.8L1242.8 375.8L1243.3 372.8L1243.7 369.8L1244.1 366.9L1244.5 363.9L1245.0 360.9L1245.4 358.0L1245.8 355.0L1246.3 352.0L1246.7 349.0L1247.1 346.1L1247.6 343.1L1248.0 340.1L1248.5 337.2L1248.9 334.2L1249.4 331.2L1249.8 328.3L1250.3 325.3L1250.7 322.3L1251.2 319.4L1251.7 316.4L1252.1 313.4L1252.6 310.5L1253.1 307.5L1253.6 304.5L1254.1 301.6L1254.5 298.6L1255.0 295.7L1255.5 292.7L1256.0 289.7L1256.5 286.8L1257.1 283.8L1257.6 280.9L1258.1 277.9L1258.6 275.0L1259.1 272.0L1259.7 269.0L1260.2 266.1L1260.8 263.1L1261.3 260.2L1261.9 257.2L1262.5 254.3L1263.0 251.3L1263.6 248.4L1264.2 245.5L1264.8 242.5L1265.4 239.6L1266.1 236.6L1266.7 233.7L1267.3 230.8L1268.0 227.9L1268.7 224.9L1269.4 222.0L1270.1 219.1L1270.8 216.2L1271.5 213.3L1272.3 210.4L1273.1 207.5L1273.9 204.6L1274.7 201.7L1275.5 198.8L1276.4 195.9L1277.4 193.1L1278.3 190.2L1279.3 187.4L1280.4 184.6L1281.6 181.8L1282.8 179.1L1284.1 176.4L1285.6 173.8L1287.2 171.3L1289.1 168.9L1291.2 166.9L1293.9 165.4L1296.8 164.9L1299.8 165.3L1302.4 166.7L1304.7 168.6L1306.6 170.9L1308.3 173.4L1309.8 176.0L1311.2 178.7L1312.4 181.4L1313.6 184.2L1314.7 187.0L1315.7 189.8L1316.7 192.6L1317.6 195.5L1318.5 198.3L1319.4 201.2L1320.2 204.1L1321.0 207.0L1321.8 209.9L1322.5 212.8L1323.3 215.7L1324.0 218.6L1324.7 221.5L1325.4 224.5L1326.0 227.4L1326.7 230.3L1327.3 233.2L1327.9 236.2L1328.5 239.1L1329.1 242.1L1329.7 245.0L1330.3 247.9L1330.9 250.9L1331.5 253.8L1332.0 256.8L1332.6 259.7L1333.1 262.7L1333.6 265.6L1334.2 268.6L1334.7 271.6L1335.2 274.5L1335.7 277.5L1336.2 280.4L1336.7 283.4L1337.2 286.3L1337.7 289.3L1338.2 292.3L1338.6 295.2L1339.1 298.2L1339.6 301.2L1340.0 304.1L1340.5 307.1L1341.0 310.1L1341.4 313.0L1341.9 316.0L1342.3 319.0L1342.7 321.9L1343.2 324.9L1343.6 327.9L1344.0 330.8L1344.5 333.8L1344.9 336.8L1345.3 339.7L1345.7 342.7L1346.2 345.7L1346.6 348.7L1347.0 351.6L1347.4 354.6L1347.8 357.6L1348.2 360.6L1348.6 363.5L1349.0 366.5L1349.4 369.5L1349.8 372.5L1350.2 375.4L1350.6 378.4L1351.0 381.4L1351.4 384.4L1351.8 387.3L1352.1 390.3L1352.5 393.3L1352.9 396.3L1353.3 399.2L1353.7 402.2L1354.0 405.2L1354.4 408.2L1354.8 411.1L1355.2 414.1L1355.5 417.1L1355.9 420.1L1356.3 423.1L1356.6 426.0L1357.0 429.0L1357.4 432.0L1357.7 435.0L1358.1 438.0L1358.4 440.9L1358.8 443.9L1359.2 446.9L1359.5 449.9L1359.9 452.9L1360.2 455.8L1360.6 458.8L1360.9 461.8L1361.3 464.8L1361.6 467.8L1362.0 470.7L1362.3 473.7L1362.7 476.7L1363.0 479.7L1363.4 482.7L1363.7 485.6L1364.1 488.6L1364.4 491.6L1364.7 494.6L1365.1 497.6L1365.4 500.5L1365.8 503.5L1366.1 506.5L1366.4 509.5L1366.8 512.5L1367.1 515.5L1367.5 518.4L1367.8 521.4L1368.1 524.4L1368.5 527.4L1368.8 530.4L1369.1 533.3L1369.5 536.3L1369.8 539.3L1370.1 542.3L1370.5 545.3L1370.8 548.3L1371.1 551.2L1371.4 554.2L1371.8 557.2L1372.1 560.2L1372.4 563.2L1372.8 566.2L1373.1 569.1L1373.4 572.1L1373.7 575.1L1374.1 578.1L1374.4 581.1L1374.7 584.1L1375.0 587.0L1375.4 590.0L1375.7 593.0L1376.0 596.0L1376.3 599.0L1376.7 602.0L1377.0 604.9L1377.3 607.9L1377.6 610.9L1378.0 613.9L1378.3 616.9L1378.6 619.9L1378.9 622.8L1379.3 625.8L1379.6 628.8L1379.9 631.8L1380.2 634.8L1380.5 637.8L1380.9 640.7L1381.2 643.7L1381.5 646.7L1381.8 649.7L1382.2 652.7L1382.5 655.7L1382.8 658.6L1383.1 661.6L1383.4 664.6L1383.8 667.6L1384.1 670.6L1384.4 673.6L1384.7 676.6L1385.0 679.5L1385.4 682.5L1385.7 685.5L1386.0 688.5L1386.3 691.5L1386.7 694.5L1387.0 697.4L1387.3 700.4L1387.6 703.4L1387.9 706.4L1388.3 709.4L1388.6 712.4L1388.9 715.3L1389.2 718.3L1389.6 721.3L1389.9 724.3L1390.2 727.3L1390.5 730.3L1390.9 733.2L1391.2 736.2L1391.5 739.2L1391.8 742.2L1392.2 745.2L1392.5 748.2L1392.8 751.1L1393.1 754.1L1393.5 757.1L1393.8 760.1L1394.1 763.1L1394.4 766.1L1394.8 769.0L1395.1 772.0L1395.4 775.0L1395.8 778.0L1396.1 781.0L1396.4 784.0L1396.8 786.9L1397.1 789.9L1397.4 792.9L1397.7 795.9L1398.1 798.9L1398.4 801.8L1398.7 804.8L1399.1 807.8L1399.4 810.8L1399.8 813.8L1400.1 816.8L1400.4 819.7L1400.8 822.7L1401.1 825.7L1401.4 828.7L1401.8 831.7L1402.1 834.7L1402.5 837.6L1402.8 840.6L1403.2 843.6L1403.5 846.6L1403.8 849.6L1404.2 852.5L1404.5 855.5L1404.9 858.5L1405.2 861.5L1405.6 864.5L1405.9 867.4L1406.3 870.4L1406.6 873.4L1407.0 876.4L1407.4 879.4L1407.7 882.3L1408.1 885.3L1408.4 888.3L1408.8 891.3L1409.2 894.3L1409.5 897.2L1409.9 900.2L1410.2 903.2L1410.6 906.2L1411.0 909.2L1411.4 912.1L1411.7 915.1L1412.1 918.1L1412.5 921.1L1412.8 924.0L1413.2 927.0L1413.6 930.0L1414.0 933.0L1414.4 935.9L1414.8 938.9L1415.1 941.9L1415.5 944.9L1415.9 947.9L1416.3 950.8L1416.7 953.8L1417.1 956.8L1417.5 959.8L1417.9 962.7L1418.3 965.7L1418.7 968.7L1419.1 971.6L1419.5 974.6L1420.0 977.6L1420.4 980.6L1420.8 983.5L1421.2 986.5L1421.7 989.5L1422.1 992.4L1422.5 995.4L1423.0 998.4L1423.4 1001.4L1423.8 1004.3L1424.3 1007.3L1424.7 1010.3L1425.2 1013.2L1425.7 1016.2L1426.1 1019.1L1426.6 1022.1L1427.1 1025.1L1427.5 1028.0L1428.0 1031.0L1428.5 1034.0L1429.0 1036.9L1429.5 1039.9L1430.0 1042.8L1430.5 1045.8L1431.1 1048.8L1431.6 1051.7L1432.1 1054.7L1432.7 1057.6L1433.2 1060.6L1433.8 1063.5L1434.3 1066.5L1434.9 1069.4L1435.5 1072.3L1436.1 1075.3L1436.7 1078.2L1437.3 1081.2L1438.0 1084.1L1438.6 1087.0L1439.3 1089.9L1440.0 1092.9L1440.7 1095.8L1441.4 1098.7L1442.2 1101.6L1443.0 1104.5L1443.8 1107.4L1444.6 1110.3L1445.5 1113.1L1446.4 1116.0L1447.4 1118.8L1448.4 1121.7L1449.5 1124.4L1450.7 1127.2L1452.0 1129.9L1453.4 1132.5L1455.1 1135.0L1457.1 1137.3L1459.5 1139.0L1462.4 1139.7L1465.4 1139.3L1468.2 1138.0L1470.7 1136.3L1472.9 1134.2L1474.9 1132.0L1476.8 1129.5L1478.5 1127.0L1480.2 1124.5L1481.7 1121.9L1483.2 1119.2L1484.7 1116.5L1486.1 1113.8L1487.4 1111.1L1488.7 1108.4L1490.0 1105.6L1491.3 1102.8L1492.5 1100.1L1493.8 1097.3L1495.0 1094.5L1496.2 1091.7L1497.4 1088.9L1498.6 1086.1L1499.8 1083.3L1501.0 1080.5L1502.2 1077.7L1503.4 1074.9L1504.6 1072.1L1505.8 1069.3L1507.1 1066.5L1508.3 1063.8L1509.6 1061.0L1510.9 1058.2L1512.2 1055.5L1513.6 1052.8L1515.0 1050.1L1516.5 1047.4L1518.1 1044.8L1519.7 1042.2L1521.5 1039.8L1523.4 1037.4L1525.6 1035.3L1528.1 1033.6L1531.0 1032.8L1534.0 1033.0L1537.0 1033.7L1539.8 1035.0L1542.3 1036.7L1544.6 1038.6L1546.7 1040.8L1548.6 1043.2L1550.4 1045.6L1552.1 1048.2L1553.8 1050.7L1555.3 1053.4L1556.7 1056.1L1558.2 1058.8L1559.5 1061.5L1560.8 1064.2L1562.1 1067.0L1563.4 1069.8L1564.6 1072.5L1565.8 1075.3L1567.0 1078.1L1568.2 1080.9L1569.3 1083.8L1570.5 1086.6L1571.6 1089.4L1572.8 1092.2L1573.9 1095.1L1575.0 1097.9L1576.2 1100.7L1577.3 1103.5L1578.4 1106.3L1579.6 1109.2L1580.8 1112.0L1582.0 1114.8L1583.2 1117.6L1584.4 1120.3L1585.7 1123.1L1587.1 1125.8L1588.5 1128.5L1590.0 1131.2L1591.6 1133.8L1593.4 1136.2L1595.5 1138.4L1598.2 1139.7L1601.1 1139.1L1603.6 1137.4L1605.7 1135.2L1607.4 1132.8L1608.9 1130.2L1610.3 1127.5L1611.5 1124.8L1612.7 1122.0L1613.7 1119.2L1614.7 1116.4L1615.7 1113.5L1616.6 1110.6L1617.5 1107.8L1618.3 1104.9L1619.1 1102.0L1619.9 1099.1L1620.7 1096.2L1621.4 1093.3L1622.1 1090.4L1622.8 1087.4L1623.5 1084.5L1624.2 1081.6L1624.8 1078.6L1625.5 1075.7L1626.1 1072.8L1626.7 1069.8L1627.3 1066.9L1627.9 1063.9L1628.5 1061.0L1629.0 1058.0L1629.6 1055.1L1630.2 1052.1L1630.7 1049.2L1631.2 1046.2L1631.8 1043.3L1632.3 1040.3L1632.8 1037.4L1633.3 1034.4L1633.8 1031.4L1634.3 1028.5L1634.8 1025.5L1635.3 1022.5L1635.8 1019.6L1636.3 1016.6L1636.8 1013.6L1637.2 1010.7L1637.7 1007.7L1638.2 1004.7L1638.6 1001.8L1639.1 998.8L1639.5 995.8L1640.0 992.9L1640.4 989.9L1640.8 986.9L1641.3 983.9L1641.7 981.0L1642.1 978.0L1642.6 975.0L1643.0 972.0L1643.4 969.1L1643.8 966.1L1644.3 963.1L1644.7 960.1L1645.1 957.2L1645.5 954.2L1645.9 951.2L1646.3 948.2L1646.7 945.3L1647.1 942.3L1647.5 939.3L1647.9 936.3L1648.3 933.4L1648.7 930.4L1649.1 927.4L1649.5 924.4L1649.8 921.4L1650.2 918.5L1650.6 915.5L1651.0 912.5L1651.4 909.5L1651.8 906.5L1652.1 903.6L1652.5 900.6L1652.9 897.6L1653.3 894.6L1653.6 891.6L1654.0 888.7L1654.4 885.7L1654.7 882.7L1655.1 879.7L1655.5 876.7L1655.8 873.7L1656.2 870.8L1656.5 867.8L1656.9 864.8L1657.3 861.8L1657.6 858.8L1658.0 855.8L1658.3 852.9L1658.7 849.9L1659.0 846.9L1659.4 843.9L1659.7 840.9L1660.1 837.9L1660.4 835.0L1660.8 832.0L1661.1 829.0L1661.5 826.0L1661.8 823.0L1662.2 820.0L1662.5 817.1L1662.9 814.1L1663.2 811.1L1663.6 808.1L1663.9 805.1L1664.2 802.1L1664.6 799.1L1664.9 796.2L1665.3 793.2L1665.6 790.2L1665.9 787.2L1666.3 784.2L1666.6 781.2L1666.9 778.3L1667.3 775.3L1667.6 772.3L1668.0 769.3L1668.3 766.3L1668.6 763.3L1669.0 760.3L1669.3 757.4L1669.6 754.4L1670.0 751.4L1670.3 748.4L1670.6 745.4L1671.0 742.4L1671.3 739.4L1671.6 736.5L1672.0 733.5L1672.3 730.5L1672.6 727.5L1672.9 724.5L1673.3 721.5L1673.6 718.5L1673.9 715.5L1674.3 712.6L1674.6 709.6L1674.9 706.6L1675.3 703.6L1675.6 700.6L1675.9 697.6L1676.2 694.6L1676.6 691.7L1676.9 688.7L1677.2 685.7L1677.6 682.7L1677.9 679.7L1678.2 676.7L1678.5 673.7L1678.9 670.8L1679.2 667.8L1679.5 664.8L1679.9 661.8L1680.2 658.8L1680.5 655.8L1680.8 652.8L1681.2 649.9L1681.5 646.9L1681.8 643.9L1682.2 640.9L1682.5 637.9L1682.8 634.9L1683.1 631.9L1683.5 628.9L1683.8 626.0L1684.1 623.0L1684.5 620.0L1684.8 617.0L1685.1 614.0L1685.5 611.0L1685.8 608.0L1686.1 605.1L1686.5 602.1L1686.8 599.1L1687.1 596.1L1687.5 593.1L1687.8 590.1L1688.1 587.1L1688.5 584.2L1688.8 581.2L1689.1 578.2L1689.5 575.2L1689.8 572.2L1690.1 569.2L1690.5 566.2L1690.8 563.3L1691.2 560.3L1691.5 557.3L1691.8 554.3L1692.2 551.3L1692.5 548.3L1692.9 545.4L1693.2 542.4L1693.6 539.4L1693.9 536.4L1694.2 533.4L1694.6 530.4L1694.9 527.4L1695.3 524.5L1695.6 521.5L1696.0 518.5L1696.3 515.5L1696.7 512.5L1697.0 509.5L1697.4 506.6L1697.7 503.6L1698.1 500.6L1698.5 497.6L1698.8 494.6L1699.2 491.6L1699.5 488.7L1699.9 485.7L1700.3 482.7L1700.6 479.7L1701.0 476.7L1701.4 473.7L1701.7 470.8L1702.1 467.8L1702.5 464.8L1702.8 461.8L1703.2 458.8L1703.6 455.9L1704.0 452.9L1704.3 449.9L1704.7 446.9L1705.1 443.9L1705.5 441.0L1705.9 438.0L1706.3 435.0L1706.7 432.0L1707.0 429.0L1707.4 426.1L1707.8 423.1L1708.2 420.1L1708.6 417.1L1709.0 414.2L1709.4 411.2L1709.9 408.2L1710.3 405.2L1710.7 402.3L1711.1 399.3L1711.5 396.3L1712.0 393.3L1712.4 390.4L1712.8 387.4L1713.2 384.4L1713.7 381.4L1714.1 378.5L1714.6 375.5L1715.0 372.5L1715.5 369.6L1715.9 366.6L1716.4 363.6L1716.9 360.7L1717.4 357.7L1717.8 354.7L1718.3 351.8L1718.8 348.8L1719.3 345.8L1719.8 342.9L1720.3 339.9L1720.9 336.9L1721.4 334.0L1721.9 331.0L1722.5 328.1L1723.0 325.1L1723.6 322.2L1724.2 319.2L1724.8 316.3L1725.4 313.3L1726.0 310.4L1726.6 307.5L1727.3 304.5L1728.0 301.6L1728.6 298.7L1729.4 295.8L1730.1 292.9L1730.9 290.0L1731.7 287.1L1732.5 284.2L1733.5 281.3L1734.4 278.5L1735.5 275.7L1736.6 272.9L1737.9 270.2L1739.4 267.6L1741.4 265.3L1744.0 264.0"/>
</defs>
<g fill="none" stroke-width="11.3" stroke-linejoin="round" clip-path="url(#fr)">
<use href="#cg" stroke="#545454" stroke-linecap="round"/>
<use href="#cr" stroke="#ff4040"/>
<use href="#cb" stroke="#0070e0"/>
</g>
<g fill="none" stroke-width="10.8" stroke-linecap="round">
<path stroke="#545454" d="M674 958.4H796.5"/>
<path stroke="#ff4040" d="M674 1065.5H796.5"/>
<path stroke="#0070e0" d="M674 1172.3H796.5"/>
</g>
<rect x="632.0" y="57.0" width="114.0" height="1176.0" fill="#56c6e9" fill-opacity="0.455"/>
<rect x="1250.0" y="57.0" width="109.0" height="1176.0" fill="#fdc4ab" fill-opacity="0.455"/>
<g clip-path="url(#bb)"><g fill="none" stroke-width="11.3" stroke-linejoin="round">
<use href="#cg" stroke="#578b9e"/>
<use href="#cr" stroke="#cc8494"/>
<use href="#cb" stroke="#0a9ee8"/>
</g><g fill="none" stroke-width="10.8" stroke-linecap="round">
<path stroke="#578b9e" d="M674 958.4H796.5"/>
<path stroke="#cc8494" d="M674 1065.5H796.5"/>
<path stroke="#0a9ee8" d="M674 1172.3H796.5"/>
</g></g>
<text x="316.5" y="613.6" font-size="55.2" fill="url(#gk)" text-anchor="start">ΦPt = 5.61 eV</text>
<text x="316.5" y="691.6" font-size="55.2" fill="url(#gr)" text-anchor="start">ΦPt = 5.69 eV</text>
<text x="316.5" y="769.4" font-size="55.2" fill="url(#gb)" text-anchor="start">ΦPt = 5.73 eV</text>
<text x="772.5" y="255.3" font-size="55.2" fill="url(#gk)">ΦLaCoO<tspan font-size="37.5" dy="13.8">3</tspan><tspan dy="-13.8"> = 4.48 eV</tspan></text>
<text x="772.8" y="343.5" font-size="55.2" fill="url(#gr)">ΦNaCoO<tspan font-size="37.5" dy="13.8">3</tspan><tspan dy="-13.8"> = 4.83 eV</tspan></text>
<text x="772.8" y="431.8" font-size="55.2" fill="url(#gb)">ΦSmCoO<tspan font-size="37.5" dy="13.8">3</tspan><tspan dy="-13.8"> = 5.11 eV</tspan></text>
<text x="828.5" y="979.5" font-size="72" fill="url(#gk)">Pt/LaCoO<tspan font-size="49.0" dy="20.2">3</tspan><tspan dy="-20.2">/Pt</tspan></text>
<text x="815.3" y="1086.5" font-size="72" fill="url(#gk)">Pt/NdCoO<tspan font-size="49.0" dy="20.2">3</tspan><tspan dy="-20.2">/Pt</tspan></text>
<text x="815.3" y="1192.8" font-size="72" fill="url(#gk)">Pt/SmCoO<tspan font-size="49.0" dy="20.2">3</tspan><tspan dy="-20.2">/Pt</tspan></text>
<text transform="translate(714.5 955.5) rotate(-90)" font-size="75.0">Pt/RCoO<tspan font-size="51.0" dy="10.5">3</tspan><tspan dy="-10.5"> interface</tspan></text>
<text transform="translate(1321.5 956.3) rotate(-90)" font-size="75.0">RCoO<tspan font-size="51.0" dy="10.5">3</tspan><tspan dy="-10.5">/Pt interface</tspan></text>
<text x="413.5" y="149.6" font-size="81.0" fill="#000" text-anchor="start">Pt</text>
<text x="853" y="155.7" font-size="81">RCoO<tspan dx="2.5" font-size="55.1" dy="21.1">3</tspan></text>
<text x="1488.8" y="155.7" font-size="81.0" fill="#000" text-anchor="start">Pt</text>
<path d="M292.7 179.6 H630.0" stroke="#000" stroke-width="10.8" fill="none"/><path d="M262.7 179.6 L293.7 164.2 L293.7 195.0 Z" fill="#000"/><path d="M660.0 179.6 L629.0 164.2 L629.0 195.0 Z" fill="#000"/>
<path d="M774.4 183.9 H1216.8" stroke="#000" stroke-width="10.8" fill="none"/><path d="M744.4 183.9 L775.4 168.5 L775.4 199.3 Z" fill="#000"/><path d="M1246.8 183.9 L1215.8 168.5 L1215.8 199.3 Z" fill="#000"/>
<path d="M1357.8 184.6 H1695.0" stroke="#000" stroke-width="10.8" fill="none"/><path d="M1327.8 184.6 L1358.8 169.2 L1358.8 200.0 Z" fill="#000"/><path d="M1725.0 184.6 L1694.0 169.2 L1694.0 200.0 Z" fill="#000"/>
</svg>
</body></html>
